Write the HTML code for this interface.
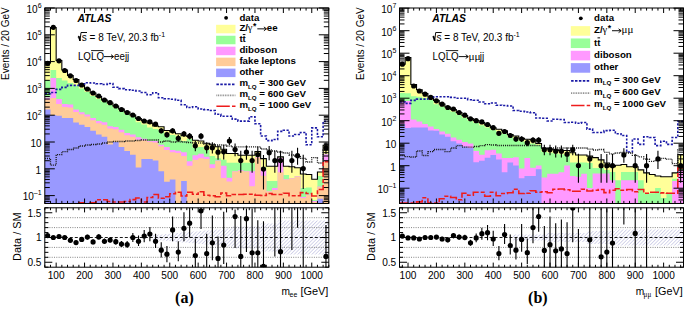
<!DOCTYPE html>
<html><head><meta charset="utf-8"><style>
html,body{margin:0;padding:0;background:#fff;width:685px;height:320px;overflow:hidden}
svg{display:block;font-family:"Liberation Sans",sans-serif}
</style></head><body>
<svg width="685" height="320" viewBox="0 0 685 320" font-family="&quot;Liberation Sans&quot;, sans-serif" fill="#000"><defs><pattern id="hatch" patternUnits="userSpaceOnUse" width="2.5" height="2.5" patternTransform="rotate(45)"><line x1="0" y1="0" x2="0" y2="2.5" stroke="#9898cc" stroke-width="0.8"/></pattern></defs>
<rect width="685" height="320" fill="#fff"/>
<clipPath id="Lm"><rect x="44.8" y="8.0" width="284" height="195.5"/></clipPath>
<clipPath id="Lr"><rect x="44.8" y="207.8" width="284" height="59.4"/></clipPath>
<path d="M44.8 205.5 L44.8 63 L50.48 63 L50.48 27.5 L56.16 27.5 L56.16 60.5 L61.84 60.5 L61.84 70 L67.52 70 L67.52 75.5 L73.2 75.5 L73.2 79.5 L78.88 79.5 L78.88 85 L84.56 85 L84.56 89 L90.24 89 L90.24 93 L95.92 93 L95.92 96.5 L101.6 96.5 L101.6 100 L107.28 100 L107.28 103 L112.96 103 L112.96 106 L118.64 106 L118.64 109 L124.32 109 L124.32 112 L130 112 L130 115 L135.68 115 L135.68 118.5 L141.36 118.5 L141.36 120.7 L147.04 120.7 L147.04 123 L152.72 123 L152.72 126 L158.4 126 L158.4 126.7 L164.08 126.7 L164.08 130.5 L169.76 130.5 L169.76 132 L175.44 132 L175.44 133.8 L181.12 133.8 L181.12 135.7 L186.8 135.7 L186.8 136.5 L192.48 136.5 L192.48 140.2 L198.16 140.2 L198.16 141 L203.84 141 L203.84 143.2 L209.52 143.2 L209.52 144.7 L215.2 144.7 L215.2 146.7 L220.88 146.7 L220.88 149.2 L226.56 149.2 L226.56 153.5 L232.24 153.5 L232.24 153.5 L237.92 153.5 L237.92 155.3 L243.6 155.3 L243.6 155.3 L249.28 155.3 L249.28 155.3 L254.96 155.3 L254.96 151.5 L260.64 151.5 L260.64 158.6 L266.32 158.6 L266.32 166.3 L272 166.3 L272 166.3 L277.68 166.3 L277.68 156.9 L283.36 156.9 L283.36 166.3 L289.04 166.3 L289.04 166.8 L294.72 166.8 L294.72 167.8 L300.4 167.8 L300.4 174 L306.08 174 L306.08 174.5 L311.76 174.5 L311.76 179.2 L317.44 179.2 L317.44 172 L323.12 172 L323.12 145.2 L328.8 145.2 L328.8 205.5 Z" fill="#ffff99" clip-path="url(#Lm)"/>
<path d="M44.8 205.5 L44.8 80 L50.48 80 L50.48 70 L56.16 70 L56.16 78 L61.84 78 L61.84 80.5 L67.52 80.5 L67.52 83 L73.2 83 L73.2 85.5 L78.88 85.5 L78.88 88.4 L84.56 88.4 L84.56 92 L90.24 92 L90.24 96 L95.92 96 L95.92 99 L101.6 99 L101.6 102 L107.28 102 L107.28 105 L112.96 105 L112.96 108 L118.64 108 L118.64 111 L124.32 111 L124.32 114 L130 114 L130 117 L135.68 117 L135.68 122.2 L141.36 122.2 L141.36 124.5 L147.04 124.5 L147.04 127.5 L152.72 127.5 L152.72 129 L158.4 129 L158.4 130.5 L164.08 130.5 L164.08 133.5 L169.76 133.5 L169.76 135 L175.44 135 L175.44 136.5 L181.12 136.5 L181.12 141 L186.8 141 L186.8 138.7 L192.48 138.7 L192.48 147.7 L198.16 147.7 L198.16 147 L203.84 147 L203.84 150 L209.52 150 L209.52 156 L215.2 156 L215.2 158.2 L220.88 158.2 L220.88 159.7 L226.56 159.7 L226.56 162.8 L232.24 162.8 L232.24 162.8 L237.92 162.8 L237.92 162.8 L243.6 162.8 L243.6 162.8 L249.28 162.8 L249.28 162.8 L254.96 162.8 L254.96 156.3 L260.64 156.3 L260.64 167 L266.32 167 L266.32 181 L272 181 L272 181 L277.68 181 L277.68 157.5 L283.36 157.5 L283.36 174.9 L289.04 174.9 L289.04 178 L294.72 178 L294.72 176 L300.4 176 L300.4 188 L306.08 188 L306.08 187.4 L311.76 187.4 L311.76 200 L317.44 200 L317.44 176 L323.12 176 L323.12 154 L328.8 154 L328.8 205.5 Z" fill="#99ff99" clip-path="url(#Lm)"/>
<path d="M44.8 205.5 L44.8 97.5 L50.48 97.5 L50.48 78 L56.16 78 L56.16 99 L61.84 99 L61.84 104 L67.52 104 L67.52 104.5 L73.2 104.5 L73.2 109.5 L78.88 109.5 L78.88 112.3 L84.56 112.3 L84.56 114.5 L90.24 114.5 L90.24 118 L95.92 118 L95.92 121 L101.6 121 L101.6 122.2 L107.28 122.2 L107.28 126.2 L112.96 126.2 L112.96 127 L118.64 127 L118.64 129.7 L124.32 129.7 L124.32 133 L130 133 L130 134.5 L135.68 134.5 L135.68 137.2 L141.36 137.2 L141.36 138.7 L147.04 138.7 L147.04 141 L152.72 141 L152.72 141 L158.4 141 L158.4 144.7 L164.08 144.7 L164.08 147 L169.76 147 L169.76 150 L175.44 150 L175.44 150.7 L181.12 150.7 L181.12 152.2 L186.8 152.2 L186.8 161.2 L192.48 161.2 L192.48 155.2 L198.16 155.2 L198.16 153.7 L203.84 153.7 L203.84 156.7 L209.52 156.7 L209.52 164.2 L215.2 164.2 L215.2 160.5 L220.88 160.5 L220.88 165.7 L226.56 165.7 L226.56 177.8 L232.24 177.8 L232.24 171.3 L237.92 171.3 L237.92 170.3 L243.6 170.3 L243.6 171.3 L249.28 171.3 L249.28 171.3 L254.96 171.3 L254.96 157 L260.64 157 L260.64 168.9 L266.32 168.9 L266.32 191.2 L272 191.2 L272 188 L277.68 188 L277.68 157.7 L283.36 157.7 L283.36 179.2 L289.04 179.2 L289.04 178.2 L294.72 178.2 L294.72 176.2 L300.4 176.2 L300.4 197 L306.08 197 L306.08 194.6 L311.76 194.6 L311.76 201 L317.44 201 L317.44 186.4 L323.12 186.4 L323.12 154.3 L328.8 154.3 L328.8 205.5 Z" fill="#ff99ff" clip-path="url(#Lm)"/>
<path d="M44.8 205.5 L44.8 99.5 L50.48 99.5 L50.48 98 L56.16 98 L56.16 104 L61.84 104 L61.84 107 L67.52 107 L67.52 107.5 L73.2 107.5 L73.2 112 L78.88 112 L78.88 114.2 L84.56 114.2 L84.56 116.5 L90.24 116.5 L90.24 120.2 L95.92 120.2 L95.92 123.2 L101.6 123.2 L101.6 124.7 L107.28 124.7 L107.28 128.5 L112.96 128.5 L112.96 129.2 L118.64 129.2 L118.64 132.2 L124.32 132.2 L124.32 135.2 L130 135.2 L130 136.7 L135.68 136.7 L135.68 139.7 L141.36 139.7 L141.36 140.2 L147.04 140.2 L147.04 141.7 L152.72 141.7 L152.72 142.5 L158.4 142.5 L158.4 146.2 L164.08 146.2 L164.08 150 L169.76 150 L169.76 152.2 L175.44 152.2 L175.44 153 L181.12 153 L181.12 156 L186.8 156 L186.8 165.7 L192.48 165.7 L192.48 159.7 L198.16 159.7 L198.16 158.2 L203.84 158.2 L203.84 159 L209.52 159 L209.52 168 L215.2 168 L215.2 161 L220.88 161 L220.88 178 L226.56 178 L226.56 181.6 L232.24 181.6 L232.24 171.5 L237.92 171.5 L237.92 171 L243.6 171 L243.6 171.5 L249.28 171.5 L249.28 186.3 L254.96 186.3 L254.96 157.5 L260.64 157.5 L260.64 175.8 L266.32 175.8 L266.32 191.5 L272 191.5 L272 190 L277.68 190 L277.68 172.3 L283.36 172.3 L283.36 179.5 L289.04 179.5 L289.04 178.4 L294.72 178.4 L294.72 176.4 L300.4 176.4 L300.4 198 L306.08 198 L306.08 195 L311.76 195 L311.76 202 L317.44 202 L317.44 187 L323.12 187 L323.12 161.6 L328.8 161.6 L328.8 205.5 Z" fill="#ffcc99" clip-path="url(#Lm)"/>
<path d="M44.8 205.5 L44.8 109.5 L50.48 109.5 L50.48 115 L56.16 115 L56.16 115.7 L61.84 115.7 L61.84 118 L67.52 118 L67.52 118 L73.2 118 L73.2 122.5 L78.88 122.5 L78.88 124.7 L84.56 124.7 L84.56 127 L90.24 127 L90.24 130.7 L95.92 130.7 L95.92 134.5 L101.6 134.5 L101.6 136.7 L107.28 136.7 L107.28 144.5 L112.96 144.5 L112.96 142 L118.64 142 L118.64 147 L124.32 147 L124.32 151 L130 151 L130 154.7 L135.68 154.7 L135.68 167.5 L141.36 167.5 L141.36 159 L147.04 159 L147.04 159 L152.72 159 L152.72 160.5 L158.4 160.5 L158.4 171.2 L164.08 171.2 L164.08 181.7 L169.76 181.7 L169.76 179.5 L175.44 179.5 L175.44 205 L181.12 205 L181.12 181 L186.8 181 L186.8 205 L192.48 205 L192.48 205 L198.16 205 L198.16 205 L203.84 205 L203.84 205 L209.52 205 L209.52 205 L215.2 205 L215.2 205 L220.88 205 L220.88 205 L226.56 205 L226.56 205 L232.24 205 L232.24 205 L237.92 205 L237.92 205 L243.6 205 L243.6 205 L249.28 205 L249.28 205 L254.96 205 L254.96 205 L260.64 205 L260.64 205 L266.32 205 L266.32 205 L272 205 L272 205 L277.68 205 L277.68 205 L283.36 205 L283.36 205 L289.04 205 L289.04 205 L294.72 205 L294.72 205 L300.4 205 L300.4 205 L306.08 205 L306.08 205 L311.76 205 L311.76 205 L317.44 205 L317.44 198.8 L323.12 198.8 L323.12 205 L328.8 205 L328.8 205.5 Z" fill="#9999ff" clip-path="url(#Lm)"/>
<path d="M44.8 63 L50.48 63 L50.48 27.5 L56.16 27.5 L56.16 60.5 L61.84 60.5 L61.84 70 L67.52 70 L67.52 75.5 L73.2 75.5 L73.2 79.5 L78.88 79.5 L78.88 85 L84.56 85 L84.56 89 L90.24 89 L90.24 93 L95.92 93 L95.92 96.5 L101.6 96.5 L101.6 100 L107.28 100 L107.28 103 L112.96 103 L112.96 106 L118.64 106 L118.64 109 L124.32 109 L124.32 112 L130 112 L130 115 L135.68 115 L135.68 118.5 L141.36 118.5 L141.36 120.7 L147.04 120.7 L147.04 123 L152.72 123 L152.72 126 L158.4 126 L158.4 126.7 L164.08 126.7 L164.08 130.5 L169.76 130.5 L169.76 132 L175.44 132 L175.44 133.8 L181.12 133.8 L181.12 135.7 L186.8 135.7 L186.8 136.5 L192.48 136.5 L192.48 140.2 L198.16 140.2 L198.16 141 L203.84 141 L203.84 143.2 L209.52 143.2 L209.52 144.7 L215.2 144.7 L215.2 146.7 L220.88 146.7 L220.88 149.2 L226.56 149.2 L226.56 153.5 L232.24 153.5 L232.24 153.5 L237.92 153.5 L237.92 155.3 L243.6 155.3 L243.6 155.3 L249.28 155.3 L249.28 155.3 L254.96 155.3 L254.96 151.5 L260.64 151.5 L260.64 158.6 L266.32 158.6 L266.32 166.3 L272 166.3 L272 166.3 L277.68 166.3 L277.68 156.9 L283.36 156.9 L283.36 166.3 L289.04 166.3 L289.04 166.8 L294.72 166.8 L294.72 167.8 L300.4 167.8 L300.4 174 L306.08 174 L306.08 174.5 L311.76 174.5 L311.76 179.2 L317.44 179.2 L317.44 172 L323.12 172 L323.12 145.2 L328.8 145.2" fill="none" stroke="#000" stroke-width="1.1" clip-path="url(#Lm)"/>
<path d="M44.8 93.6 L50.48 93.6 L50.48 92.5 L56.16 92.5 L56.16 89.4 L61.84 89.4 L61.84 87.4 L67.52 87.4 L67.52 85.4 L73.2 85.4 L73.2 85.4 L78.88 85.4 L78.88 83.9 L84.56 83.9 L84.56 82.75 L90.24 82.75 L90.24 83 L95.92 83 L95.92 83.7 L101.6 83.7 L101.6 84.5 L107.28 84.5 L107.28 83.5 L112.96 83.5 L112.96 87.2 L118.64 87.2 L118.64 88.6 L124.32 88.6 L124.32 89.7 L130 89.7 L130 90.3 L135.68 90.3 L135.68 91 L141.36 91 L141.36 92.5 L147.04 92.5 L147.04 94.7 L152.72 94.7 L152.72 92.8 L158.4 92.8 L158.4 97.7 L164.08 97.7 L164.08 98.8 L169.76 98.8 L169.76 99.2 L175.44 99.2 L175.44 100.3 L181.12 100.3 L181.12 104.8 L186.8 104.8 L186.8 107.5 L192.48 107.5 L192.48 106.7 L198.16 106.7 L198.16 109 L203.84 109 L203.84 109.7 L209.52 109.7 L209.52 110.5 L215.2 110.5 L215.2 114.2 L220.88 114.2 L220.88 116.2 L226.56 116.2 L226.56 116.2 L232.24 116.2 L232.24 119.1 L237.92 119.1 L237.92 121.1 L243.6 121.1 L243.6 121.1 L249.28 121.1 L249.28 116.8 L254.96 116.8 L254.96 123.7 L260.64 123.7 L260.64 136 L266.32 136 L266.32 140.6 L272 140.6 L272 139.5 L277.68 139.5 L277.68 131.4 L283.36 131.4 L283.36 130.3 L289.04 130.3 L289.04 136 L294.72 136 L294.72 134.5 L300.4 134.5 L300.4 132.5 L306.08 132.5 L306.08 144.7 L311.76 144.7 L311.76 127.9 L317.44 127.9 L317.44 136.8 L323.12 136.8 L323.12 121.4 L328.8 121.4" fill="none" stroke="#1a1aa6" stroke-width="1.6" stroke-dasharray="2.2 1.5" clip-path="url(#Lm)"/>
<path d="M44.8 158.5 L50.48 158.5 L50.48 165.2 L56.16 165.2 L56.16 154.7 L61.84 154.7 L61.84 151.7 L67.52 151.7 L67.52 149.5 L73.2 149.5 L73.2 148 L78.88 148 L78.88 146 L84.56 146 L84.56 145 L90.24 145 L90.24 144.5 L95.92 144.5 L95.92 144 L101.6 144 L101.6 143 L107.28 143 L107.28 142 L112.96 142 L112.96 141.5 L118.64 141.5 L118.64 141.5 L124.32 141.5 L124.32 141 L130 141 L130 141 L135.68 141 L135.68 140.5 L141.36 140.5 L141.36 140 L147.04 140 L147.04 140 L152.72 140 L152.72 140 L158.4 140 L158.4 142 L164.08 142 L164.08 141 L169.76 141 L169.76 142 L175.44 142 L175.44 141.5 L181.12 141.5 L181.12 142 L186.8 142 L186.8 142.5 L192.48 142.5 L192.48 143 L198.16 143 L198.16 143 L203.84 143 L203.84 144 L209.52 144 L209.52 144 L215.2 144 L215.2 145 L220.88 145 L220.88 145 L226.56 145 L226.56 146 L232.24 146 L232.24 146.8 L237.92 146.8 L237.92 146.8 L243.6 146.8 L243.6 146.8 L249.28 146.8 L249.28 146.8 L254.96 146.8 L254.96 146.8 L260.64 146.8 L260.64 149 L266.32 149 L266.32 150 L272 150 L272 151 L277.68 151 L277.68 152 L283.36 152 L283.36 153 L289.04 153 L289.04 155 L294.72 155 L294.72 156 L300.4 156 L300.4 158.3 L306.08 158.3 L306.08 162 L311.76 162 L311.76 157.6 L317.44 157.6 L317.44 163 L323.12 163 L323.12 150 L328.8 150" fill="none" stroke="#1a1a1a" stroke-width="1.3" stroke-dasharray="1.1 1" clip-path="url(#Lm)"/>
<path d="M44.8 206 L50.48 206 L50.48 206 L56.16 206 L56.16 206 L61.84 206 L61.84 206 L67.52 206 L67.52 206 L73.2 206 L73.2 206 L78.88 206 L78.88 202.7 L84.56 202.7 L84.56 204.5 L90.24 204.5 L90.24 202.7 L95.92 202.7 L95.92 199.8 L101.6 199.8 L101.6 199.8 L107.28 199.8 L107.28 201.5 L112.96 201.5 L112.96 202 L118.64 202 L118.64 202 L124.32 202 L124.32 201.5 L130 201.5 L130 199.6 L135.68 199.6 L135.68 198 L141.36 198 L141.36 202 L147.04 202 L147.04 197.5 L152.72 197.5 L152.72 194.5 L158.4 194.5 L158.4 198.2 L164.08 198.2 L164.08 196.7 L169.76 196.7 L169.76 193.7 L175.44 193.7 L175.44 192.2 L181.12 192.2 L181.12 196 L186.8 196 L186.8 192.2 L192.48 192.2 L192.48 194.2 L198.16 194.2 L198.16 191.8 L203.84 191.8 L203.84 195.2 L209.52 195.2 L209.52 195.7 L215.2 195.7 L215.2 196.7 L220.88 196.7 L220.88 193 L226.56 193 L226.56 195.7 L232.24 195.7 L232.24 194.5 L237.92 194.5 L237.92 194.5 L243.6 194.5 L243.6 194.2 L249.28 194.2 L249.28 194.2 L254.96 194.2 L254.96 195.3 L260.64 195.3 L260.64 195.5 L266.32 195.5 L266.32 193.5 L272 193.5 L272 194.5 L277.68 194.5 L277.68 194.5 L283.36 194.5 L283.36 193.2 L289.04 193.2 L289.04 195.7 L294.72 195.7 L294.72 195.7 L300.4 195.7 L300.4 192.6 L306.08 192.6 L306.08 193.5 L311.76 193.5 L311.76 196 L317.44 196 L317.44 189.5 L323.12 189.5 L323.12 161.6 L328.8 161.6" fill="none" stroke="#ee1c1c" stroke-width="1.6" stroke-dasharray="9 2 4 2" clip-path="url(#Lm)"/>
<line x1="47.64" y1="63.18" x2="47.64" y2="63.43" stroke="#000" stroke-width="1.1" clip-path="url(#Lm)"/>
<circle cx="47.64" cy="63.3" r="2.6" fill="#000" clip-path="url(#Lm)"/>
<line x1="53.32" y1="27.27" x2="53.32" y2="27.33" stroke="#000" stroke-width="1.1" clip-path="url(#Lm)"/>
<circle cx="53.32" cy="27.3" r="2.6" fill="#000" clip-path="url(#Lm)"/>
<line x1="59" y1="60.69" x2="59" y2="60.91" stroke="#000" stroke-width="1.1" clip-path="url(#Lm)"/>
<circle cx="59" cy="60.8" r="2.6" fill="#000" clip-path="url(#Lm)"/>
<line x1="64.68" y1="70.33" x2="64.68" y2="70.67" stroke="#000" stroke-width="1.1" clip-path="url(#Lm)"/>
<circle cx="64.68" cy="70.5" r="2.6" fill="#000" clip-path="url(#Lm)"/>
<line x1="70.36" y1="75.59" x2="70.36" y2="76.02" stroke="#000" stroke-width="1.1" clip-path="url(#Lm)"/>
<circle cx="70.36" cy="75.8" r="2.6" fill="#000" clip-path="url(#Lm)"/>
<line x1="76.04" y1="80.24" x2="76.04" y2="80.77" stroke="#000" stroke-width="1.1" clip-path="url(#Lm)"/>
<circle cx="76.04" cy="80.5" r="2.6" fill="#000" clip-path="url(#Lm)"/>
<line x1="81.72" y1="84.69" x2="81.72" y2="85.32" stroke="#000" stroke-width="1.1" clip-path="url(#Lm)"/>
<circle cx="81.72" cy="85" r="2.6" fill="#000" clip-path="url(#Lm)"/>
<line x1="87.4" y1="88.63" x2="87.4" y2="89.38" stroke="#000" stroke-width="1.1" clip-path="url(#Lm)"/>
<circle cx="87.4" cy="89" r="2.6" fill="#000" clip-path="url(#Lm)"/>
<line x1="93.08" y1="92.56" x2="93.08" y2="93.46" stroke="#000" stroke-width="1.1" clip-path="url(#Lm)"/>
<circle cx="93.08" cy="93" r="2.6" fill="#000" clip-path="url(#Lm)"/>
<line x1="98.76" y1="95.5" x2="98.76" y2="96.52" stroke="#000" stroke-width="1.1" clip-path="url(#Lm)"/>
<circle cx="98.76" cy="96" r="2.6" fill="#000" clip-path="url(#Lm)"/>
<line x1="104.44" y1="99.41" x2="104.44" y2="100.62" stroke="#000" stroke-width="1.1" clip-path="url(#Lm)"/>
<circle cx="104.44" cy="100" r="2.6" fill="#000" clip-path="url(#Lm)"/>
<line x1="110.12" y1="102.04" x2="110.12" y2="103.4" stroke="#000" stroke-width="1.1" clip-path="url(#Lm)"/>
<circle cx="110.12" cy="102.7" r="2.6" fill="#000" clip-path="url(#Lm)"/>
<line x1="115.8" y1="105.24" x2="115.8" y2="106.81" stroke="#000" stroke-width="1.1" clip-path="url(#Lm)"/>
<circle cx="115.8" cy="106" r="2.6" fill="#000" clip-path="url(#Lm)"/>
<line x1="121.48" y1="108.62" x2="121.48" y2="110.45" stroke="#000" stroke-width="1.1" clip-path="url(#Lm)"/>
<circle cx="121.48" cy="109.5" r="2.6" fill="#000" clip-path="url(#Lm)"/>
<line x1="127.16" y1="111.51" x2="127.16" y2="113.59" stroke="#000" stroke-width="1.1" clip-path="url(#Lm)"/>
<circle cx="127.16" cy="112.5" r="2.6" fill="#000" clip-path="url(#Lm)"/>
<line x1="132.84" y1="113.9" x2="132.84" y2="116.22" stroke="#000" stroke-width="1.1" clip-path="url(#Lm)"/>
<circle cx="132.84" cy="115" r="2.6" fill="#000" clip-path="url(#Lm)"/>
<line x1="138.52" y1="117.23" x2="138.52" y2="119.92" stroke="#000" stroke-width="1.1" clip-path="url(#Lm)"/>
<circle cx="138.52" cy="118.5" r="2.6" fill="#000" clip-path="url(#Lm)"/>
<line x1="144.2" y1="119.6" x2="144.2" y2="122.6" stroke="#000" stroke-width="1.1" clip-path="url(#Lm)"/>
<circle cx="144.2" cy="121" r="2.6" fill="#000" clip-path="url(#Lm)"/>
<line x1="149.88" y1="120.17" x2="149.88" y2="123.45" stroke="#000" stroke-width="1.1" clip-path="url(#Lm)"/>
<circle cx="149.88" cy="121.8" r="2.6" fill="#000" clip-path="url(#Lm)"/>
<line x1="155.56" y1="122.37" x2="155.56" y2="126.05" stroke="#000" stroke-width="1.1" clip-path="url(#Lm)"/>
<circle cx="155.56" cy="124.2" r="2.6" fill="#000" clip-path="url(#Lm)"/>
<line x1="161.24" y1="128.32" x2="161.24" y2="133.32" stroke="#000" stroke-width="1.1" clip-path="url(#Lm)"/>
<circle cx="161.24" cy="130.8" r="2.6" fill="#000" clip-path="url(#Lm)"/>
<line x1="166.92" y1="131.77" x2="166.92" y2="137.7" stroke="#000" stroke-width="1.1" clip-path="url(#Lm)"/>
<circle cx="166.92" cy="134.7" r="2.6" fill="#000" clip-path="url(#Lm)"/>
<line x1="172.6" y1="128.32" x2="172.6" y2="133.32" stroke="#000" stroke-width="1.1" clip-path="url(#Lm)"/>
<circle cx="172.6" cy="130.8" r="2.6" fill="#000" clip-path="url(#Lm)"/>
<line x1="178.28" y1="134.85" x2="178.28" y2="141.87" stroke="#000" stroke-width="1.1" clip-path="url(#Lm)"/>
<circle cx="178.28" cy="138.3" r="2.6" fill="#000" clip-path="url(#Lm)"/>
<line x1="183.96" y1="130.95" x2="183.96" y2="136.72" stroke="#000" stroke-width="1.1" clip-path="url(#Lm)"/>
<circle cx="183.96" cy="133.8" r="2.6" fill="#000" clip-path="url(#Lm)"/>
<line x1="189.64" y1="132.99" x2="189.64" y2="139.51" stroke="#000" stroke-width="1.1" clip-path="url(#Lm)"/>
<circle cx="189.64" cy="136.2" r="2.6" fill="#000" clip-path="url(#Lm)"/>
<line x1="195.32" y1="140.78" x2="195.32" y2="151.16" stroke="#000" stroke-width="1.1" clip-path="url(#Lm)"/>
<circle cx="195.32" cy="145.8" r="2.6" fill="#000" clip-path="url(#Lm)"/>
<line x1="201" y1="132.99" x2="201" y2="139.51" stroke="#000" stroke-width="1.1" clip-path="url(#Lm)"/>
<circle cx="201" cy="136.2" r="2.6" fill="#000" clip-path="url(#Lm)"/>
<line x1="206.68" y1="142.25" x2="206.68" y2="153.58" stroke="#000" stroke-width="1.1" clip-path="url(#Lm)"/>
<circle cx="206.68" cy="147.7" r="2.6" fill="#000" clip-path="url(#Lm)"/>
<line x1="212.36" y1="142.25" x2="212.36" y2="153.58" stroke="#000" stroke-width="1.1" clip-path="url(#Lm)"/>
<circle cx="212.36" cy="147.7" r="2.6" fill="#000" clip-path="url(#Lm)"/>
<line x1="218.04" y1="145.42" x2="218.04" y2="159.78" stroke="#000" stroke-width="1.1" clip-path="url(#Lm)"/>
<circle cx="218.04" cy="152.2" r="2.6" fill="#000" clip-path="url(#Lm)"/>
<line x1="223.72" y1="145.02" x2="223.72" y2="159.38" stroke="#000" stroke-width="1.1" clip-path="url(#Lm)"/>
<circle cx="223.72" cy="151.8" r="2.6" fill="#000" clip-path="url(#Lm)"/>
<line x1="229.4" y1="137.07" x2="229.4" y2="145.1" stroke="#000" stroke-width="1.1" clip-path="url(#Lm)"/>
<circle cx="229.4" cy="141" r="2.6" fill="#000" clip-path="url(#Lm)"/>
<line x1="235.08" y1="143.59" x2="235.08" y2="156.18" stroke="#000" stroke-width="1.1" clip-path="url(#Lm)"/>
<circle cx="235.08" cy="149.6" r="2.6" fill="#000" clip-path="url(#Lm)"/>
<line x1="240.76" y1="150.81" x2="240.76" y2="172.68" stroke="#000" stroke-width="1.1" clip-path="url(#Lm)"/>
<circle cx="240.76" cy="160.6" r="2.6" fill="#000" clip-path="url(#Lm)"/>
<line x1="246.44" y1="145.42" x2="246.44" y2="159.78" stroke="#000" stroke-width="1.1" clip-path="url(#Lm)"/>
<circle cx="246.44" cy="152.2" r="2.6" fill="#000" clip-path="url(#Lm)"/>
<line x1="252.12" y1="150.81" x2="252.12" y2="172.68" stroke="#000" stroke-width="1.1" clip-path="url(#Lm)"/>
<circle cx="252.12" cy="160.6" r="2.6" fill="#000" clip-path="url(#Lm)"/>
<line x1="257.8" y1="146.59" x2="257.8" y2="163.65" stroke="#000" stroke-width="1.1" clip-path="url(#Lm)"/>
<circle cx="257.8" cy="154.5" r="2.6" fill="#000" clip-path="url(#Lm)"/>
<line x1="263.48" y1="155.11" x2="263.48" y2="189.44" stroke="#000" stroke-width="1.1" clip-path="url(#Lm)"/>
<circle cx="263.48" cy="169" r="2.6" fill="#000" clip-path="url(#Lm)"/>
<line x1="269.16" y1="145.92" x2="269.16" y2="160.28" stroke="#000" stroke-width="1.1" clip-path="url(#Lm)"/>
<circle cx="269.16" cy="152.7" r="2.6" fill="#000" clip-path="url(#Lm)"/>
<line x1="274.84" y1="150.81" x2="274.84" y2="172.68" stroke="#000" stroke-width="1.1" clip-path="url(#Lm)"/>
<circle cx="274.84" cy="160.6" r="2.6" fill="#000" clip-path="url(#Lm)"/>
<line x1="280.52" y1="150.81" x2="280.52" y2="172.68" stroke="#000" stroke-width="1.1" clip-path="url(#Lm)"/>
<circle cx="280.52" cy="160.6" r="2.6" fill="#000" clip-path="url(#Lm)"/>
<line x1="291.88" y1="150.81" x2="291.88" y2="172.68" stroke="#000" stroke-width="1.1" clip-path="url(#Lm)"/>
<circle cx="291.88" cy="160.6" r="2.6" fill="#000" clip-path="url(#Lm)"/>
<line x1="297.56" y1="147.79" x2="297.56" y2="164.85" stroke="#000" stroke-width="1.1" clip-path="url(#Lm)"/>
<circle cx="297.56" cy="155.7" r="2.6" fill="#000" clip-path="url(#Lm)"/>
<line x1="303.24" y1="154.71" x2="303.24" y2="189.04" stroke="#000" stroke-width="1.1" clip-path="url(#Lm)"/>
<circle cx="303.24" cy="168.6" r="2.6" fill="#000" clip-path="url(#Lm)"/>
<line x1="325.96" y1="142.55" x2="325.96" y2="153.88" stroke="#000" stroke-width="1.1" clip-path="url(#Lm)"/>
<circle cx="325.96" cy="148" r="2.6" fill="#000" clip-path="url(#Lm)"/>
<rect x="44.8" y="8.0" width="284" height="195.5" fill="none" stroke="#000" stroke-width="1"/>
<text x="56.16" y="278.7" font-size="10.1" text-anchor="middle">100</text>
<text x="84.56" y="278.7" font-size="10.1" text-anchor="middle">200</text>
<text x="112.96" y="278.7" font-size="10.1" text-anchor="middle">300</text>
<text x="141.36" y="278.7" font-size="10.1" text-anchor="middle">400</text>
<text x="169.76" y="278.7" font-size="10.1" text-anchor="middle">500</text>
<text x="198.16" y="278.7" font-size="10.1" text-anchor="middle">600</text>
<text x="226.56" y="278.7" font-size="10.1" text-anchor="middle">700</text>
<text x="254.96" y="278.7" font-size="10.1" text-anchor="middle">800</text>
<text x="283.36" y="278.7" font-size="10.1" text-anchor="middle">900</text>
<text x="311.76" y="278.7" font-size="10.1" text-anchor="middle">1000</text>
<path d="M44.8 203.5 v-2.6 M44.8 8 v2.6 M44.8 267.2 v-2.4 M44.8 207.8 v2.4 M50.48 203.5 v-2.6 M50.48 8 v2.6 M50.48 267.2 v-2.4 M50.48 207.8 v2.4 M56.16 203.5 v-5 M56.16 8 v5 M56.16 267.2 v-4.6 M56.16 207.8 v4.6 M61.84 203.5 v-2.6 M61.84 8 v2.6 M61.84 267.2 v-2.4 M61.84 207.8 v2.4 M67.52 203.5 v-2.6 M67.52 8 v2.6 M67.52 267.2 v-2.4 M67.52 207.8 v2.4 M73.2 203.5 v-2.6 M73.2 8 v2.6 M73.2 267.2 v-2.4 M73.2 207.8 v2.4 M78.88 203.5 v-2.6 M78.88 8 v2.6 M78.88 267.2 v-2.4 M78.88 207.8 v2.4 M84.56 203.5 v-5 M84.56 8 v5 M84.56 267.2 v-4.6 M84.56 207.8 v4.6 M90.24 203.5 v-2.6 M90.24 8 v2.6 M90.24 267.2 v-2.4 M90.24 207.8 v2.4 M95.92 203.5 v-2.6 M95.92 8 v2.6 M95.92 267.2 v-2.4 M95.92 207.8 v2.4 M101.6 203.5 v-2.6 M101.6 8 v2.6 M101.6 267.2 v-2.4 M101.6 207.8 v2.4 M107.28 203.5 v-2.6 M107.28 8 v2.6 M107.28 267.2 v-2.4 M107.28 207.8 v2.4 M112.96 203.5 v-5 M112.96 8 v5 M112.96 267.2 v-4.6 M112.96 207.8 v4.6 M118.64 203.5 v-2.6 M118.64 8 v2.6 M118.64 267.2 v-2.4 M118.64 207.8 v2.4 M124.32 203.5 v-2.6 M124.32 8 v2.6 M124.32 267.2 v-2.4 M124.32 207.8 v2.4 M130 203.5 v-2.6 M130 8 v2.6 M130 267.2 v-2.4 M130 207.8 v2.4 M135.68 203.5 v-2.6 M135.68 8 v2.6 M135.68 267.2 v-2.4 M135.68 207.8 v2.4 M141.36 203.5 v-5 M141.36 8 v5 M141.36 267.2 v-4.6 M141.36 207.8 v4.6 M147.04 203.5 v-2.6 M147.04 8 v2.6 M147.04 267.2 v-2.4 M147.04 207.8 v2.4 M152.72 203.5 v-2.6 M152.72 8 v2.6 M152.72 267.2 v-2.4 M152.72 207.8 v2.4 M158.4 203.5 v-2.6 M158.4 8 v2.6 M158.4 267.2 v-2.4 M158.4 207.8 v2.4 M164.08 203.5 v-2.6 M164.08 8 v2.6 M164.08 267.2 v-2.4 M164.08 207.8 v2.4 M169.76 203.5 v-5 M169.76 8 v5 M169.76 267.2 v-4.6 M169.76 207.8 v4.6 M175.44 203.5 v-2.6 M175.44 8 v2.6 M175.44 267.2 v-2.4 M175.44 207.8 v2.4 M181.12 203.5 v-2.6 M181.12 8 v2.6 M181.12 267.2 v-2.4 M181.12 207.8 v2.4 M186.8 203.5 v-2.6 M186.8 8 v2.6 M186.8 267.2 v-2.4 M186.8 207.8 v2.4 M192.48 203.5 v-2.6 M192.48 8 v2.6 M192.48 267.2 v-2.4 M192.48 207.8 v2.4 M198.16 203.5 v-5 M198.16 8 v5 M198.16 267.2 v-4.6 M198.16 207.8 v4.6 M203.84 203.5 v-2.6 M203.84 8 v2.6 M203.84 267.2 v-2.4 M203.84 207.8 v2.4 M209.52 203.5 v-2.6 M209.52 8 v2.6 M209.52 267.2 v-2.4 M209.52 207.8 v2.4 M215.2 203.5 v-2.6 M215.2 8 v2.6 M215.2 267.2 v-2.4 M215.2 207.8 v2.4 M220.88 203.5 v-2.6 M220.88 8 v2.6 M220.88 267.2 v-2.4 M220.88 207.8 v2.4 M226.56 203.5 v-5 M226.56 8 v5 M226.56 267.2 v-4.6 M226.56 207.8 v4.6 M232.24 203.5 v-2.6 M232.24 8 v2.6 M232.24 267.2 v-2.4 M232.24 207.8 v2.4 M237.92 203.5 v-2.6 M237.92 8 v2.6 M237.92 267.2 v-2.4 M237.92 207.8 v2.4 M243.6 203.5 v-2.6 M243.6 8 v2.6 M243.6 267.2 v-2.4 M243.6 207.8 v2.4 M249.28 203.5 v-2.6 M249.28 8 v2.6 M249.28 267.2 v-2.4 M249.28 207.8 v2.4 M254.96 203.5 v-5 M254.96 8 v5 M254.96 267.2 v-4.6 M254.96 207.8 v4.6 M260.64 203.5 v-2.6 M260.64 8 v2.6 M260.64 267.2 v-2.4 M260.64 207.8 v2.4 M266.32 203.5 v-2.6 M266.32 8 v2.6 M266.32 267.2 v-2.4 M266.32 207.8 v2.4 M272 203.5 v-2.6 M272 8 v2.6 M272 267.2 v-2.4 M272 207.8 v2.4 M277.68 203.5 v-2.6 M277.68 8 v2.6 M277.68 267.2 v-2.4 M277.68 207.8 v2.4 M283.36 203.5 v-5 M283.36 8 v5 M283.36 267.2 v-4.6 M283.36 207.8 v4.6 M289.04 203.5 v-2.6 M289.04 8 v2.6 M289.04 267.2 v-2.4 M289.04 207.8 v2.4 M294.72 203.5 v-2.6 M294.72 8 v2.6 M294.72 267.2 v-2.4 M294.72 207.8 v2.4 M300.4 203.5 v-2.6 M300.4 8 v2.6 M300.4 267.2 v-2.4 M300.4 207.8 v2.4 M306.08 203.5 v-2.6 M306.08 8 v2.6 M306.08 267.2 v-2.4 M306.08 207.8 v2.4 M311.76 203.5 v-5 M311.76 8 v5 M311.76 267.2 v-4.6 M311.76 207.8 v4.6 M317.44 203.5 v-2.6 M317.44 8 v2.6 M317.44 267.2 v-2.4 M317.44 207.8 v2.4 M323.12 203.5 v-2.6 M323.12 8 v2.6 M323.12 267.2 v-2.4 M323.12 207.8 v2.4 M328.8 203.5 v-2.6 M328.8 8 v2.6 M328.8 267.2 v-2.4 M328.8 207.8 v2.4 M44.8 8 h10 M328.8 8 h-10 M44.8 34.8 h10 M328.8 34.8 h-10 M44.8 26.73 h5 M328.8 26.73 h-5 M44.8 22.01 h5 M328.8 22.01 h-5 M44.8 18.66 h5 M328.8 18.66 h-5 M44.8 16.07 h5 M328.8 16.07 h-5 M44.8 13.95 h5 M328.8 13.95 h-5 M44.8 12.15 h5 M328.8 12.15 h-5 M44.8 10.6 h5 M328.8 10.6 h-5 M44.8 9.23 h5 M328.8 9.23 h-5 M44.8 61.6 h10 M328.8 61.6 h-10 M44.8 53.53 h5 M328.8 53.53 h-5 M44.8 48.81 h5 M328.8 48.81 h-5 M44.8 45.46 h5 M328.8 45.46 h-5 M44.8 42.87 h5 M328.8 42.87 h-5 M44.8 40.75 h5 M328.8 40.75 h-5 M44.8 38.95 h5 M328.8 38.95 h-5 M44.8 37.4 h5 M328.8 37.4 h-5 M44.8 36.03 h5 M328.8 36.03 h-5 M44.8 88.4 h10 M328.8 88.4 h-10 M44.8 80.33 h5 M328.8 80.33 h-5 M44.8 75.61 h5 M328.8 75.61 h-5 M44.8 72.26 h5 M328.8 72.26 h-5 M44.8 69.67 h5 M328.8 69.67 h-5 M44.8 67.55 h5 M328.8 67.55 h-5 M44.8 65.75 h5 M328.8 65.75 h-5 M44.8 64.2 h5 M328.8 64.2 h-5 M44.8 62.83 h5 M328.8 62.83 h-5 M44.8 115.2 h10 M328.8 115.2 h-10 M44.8 107.13 h5 M328.8 107.13 h-5 M44.8 102.41 h5 M328.8 102.41 h-5 M44.8 99.06 h5 M328.8 99.06 h-5 M44.8 96.47 h5 M328.8 96.47 h-5 M44.8 94.35 h5 M328.8 94.35 h-5 M44.8 92.55 h5 M328.8 92.55 h-5 M44.8 91 h5 M328.8 91 h-5 M44.8 89.63 h5 M328.8 89.63 h-5 M44.8 142 h10 M328.8 142 h-10 M44.8 133.93 h5 M328.8 133.93 h-5 M44.8 129.21 h5 M328.8 129.21 h-5 M44.8 125.86 h5 M328.8 125.86 h-5 M44.8 123.27 h5 M328.8 123.27 h-5 M44.8 121.15 h5 M328.8 121.15 h-5 M44.8 119.35 h5 M328.8 119.35 h-5 M44.8 117.8 h5 M328.8 117.8 h-5 M44.8 116.43 h5 M328.8 116.43 h-5 M44.8 168.8 h10 M328.8 168.8 h-10 M44.8 160.73 h5 M328.8 160.73 h-5 M44.8 156.01 h5 M328.8 156.01 h-5 M44.8 152.66 h5 M328.8 152.66 h-5 M44.8 150.07 h5 M328.8 150.07 h-5 M44.8 147.95 h5 M328.8 147.95 h-5 M44.8 146.15 h5 M328.8 146.15 h-5 M44.8 144.6 h5 M328.8 144.6 h-5 M44.8 143.23 h5 M328.8 143.23 h-5 M44.8 195.6 h10 M328.8 195.6 h-10 M44.8 187.53 h5 M328.8 187.53 h-5 M44.8 182.81 h5 M328.8 182.81 h-5 M44.8 179.46 h5 M328.8 179.46 h-5 M44.8 176.87 h5 M328.8 176.87 h-5 M44.8 174.75 h5 M328.8 174.75 h-5 M44.8 172.95 h5 M328.8 172.95 h-5 M44.8 171.4 h5 M328.8 171.4 h-5 M44.8 170.03 h5 M328.8 170.03 h-5 M44.8 201.55 h5 M328.8 201.55 h-5 M44.8 199.75 h5 M328.8 199.75 h-5 M44.8 198.2 h5 M328.8 198.2 h-5 M44.8 196.83 h5 M328.8 196.83 h-5" stroke="#000" stroke-width="1" fill="none"/>
<text x="41.6" y="12.8" font-size="10" text-anchor="end">10<tspan font-size="7" dy="-5">6</tspan></text>
<text x="41.6" y="39.6" font-size="10" text-anchor="end">10<tspan font-size="7" dy="-5">5</tspan></text>
<text x="41.6" y="66.4" font-size="10" text-anchor="end">10<tspan font-size="7" dy="-5">4</tspan></text>
<text x="41.6" y="93.2" font-size="10" text-anchor="end">10<tspan font-size="7" dy="-5">3</tspan></text>
<text x="41.6" y="120" font-size="10" text-anchor="end">10<tspan font-size="7" dy="-5">2</tspan></text>
<text x="41.6" y="146.8" font-size="10" text-anchor="end">10</text>
<text x="41.1" y="173.6" font-size="10" text-anchor="end">1</text>
<text x="41.6" y="200.4" font-size="10" text-anchor="end">10<tspan font-size="7" dy="-5">&#8211;1</tspan></text>
<rect x="152.72" y="234.7" width="5.7" height="5.6" fill="url(#hatch)" clip-path="url(#Lr)"/>
<rect x="158.4" y="234.5" width="5.7" height="6" fill="url(#hatch)" clip-path="url(#Lr)"/>
<rect x="164.08" y="234" width="5.7" height="7" fill="url(#hatch)" clip-path="url(#Lr)"/>
<rect x="169.76" y="233.5" width="5.7" height="8" fill="url(#hatch)" clip-path="url(#Lr)"/>
<rect x="175.44" y="233" width="5.7" height="9" fill="url(#hatch)" clip-path="url(#Lr)"/>
<rect x="181.12" y="232.5" width="5.7" height="10" fill="url(#hatch)" clip-path="url(#Lr)"/>
<rect x="186.8" y="232" width="5.7" height="11" fill="url(#hatch)" clip-path="url(#Lr)"/>
<rect x="192.48" y="231.5" width="5.7" height="12" fill="url(#hatch)" clip-path="url(#Lr)"/>
<rect x="198.16" y="231" width="5.7" height="13" fill="url(#hatch)" clip-path="url(#Lr)"/>
<rect x="203.84" y="230.5" width="5.7" height="14" fill="url(#hatch)" clip-path="url(#Lr)"/>
<rect x="209.52" y="230" width="5.7" height="15" fill="url(#hatch)" clip-path="url(#Lr)"/>
<rect x="215.2" y="229.5" width="5.7" height="16" fill="url(#hatch)" clip-path="url(#Lr)"/>
<rect x="220.88" y="229" width="5.7" height="17" fill="url(#hatch)" clip-path="url(#Lr)"/>
<rect x="226.56" y="228.5" width="5.7" height="18" fill="url(#hatch)" clip-path="url(#Lr)"/>
<rect x="232.24" y="226.5" width="5.7" height="22" fill="url(#hatch)" clip-path="url(#Lr)"/>
<rect x="237.92" y="226.5" width="5.7" height="22" fill="url(#hatch)" clip-path="url(#Lr)"/>
<rect x="243.6" y="226.5" width="5.7" height="22" fill="url(#hatch)" clip-path="url(#Lr)"/>
<rect x="249.28" y="226.5" width="5.7" height="22" fill="url(#hatch)" clip-path="url(#Lr)"/>
<rect x="254.96" y="226.5" width="5.7" height="22" fill="url(#hatch)" clip-path="url(#Lr)"/>
<rect x="260.64" y="223.5" width="5.7" height="28" fill="url(#hatch)" clip-path="url(#Lr)"/>
<rect x="266.32" y="223.5" width="5.7" height="28" fill="url(#hatch)" clip-path="url(#Lr)"/>
<rect x="272" y="223.5" width="5.7" height="28" fill="url(#hatch)" clip-path="url(#Lr)"/>
<rect x="277.68" y="220.5" width="5.7" height="34" fill="url(#hatch)" clip-path="url(#Lr)"/>
<rect x="283.36" y="220.5" width="5.7" height="34" fill="url(#hatch)" clip-path="url(#Lr)"/>
<rect x="289.04" y="220.5" width="5.7" height="34" fill="url(#hatch)" clip-path="url(#Lr)"/>
<rect x="294.72" y="220.5" width="5.7" height="34" fill="url(#hatch)" clip-path="url(#Lr)"/>
<rect x="300.4" y="220.5" width="5.7" height="34" fill="url(#hatch)" clip-path="url(#Lr)"/>
<rect x="306.08" y="220.5" width="5.7" height="34" fill="url(#hatch)" clip-path="url(#Lr)"/>
<rect x="311.76" y="220.5" width="5.7" height="34" fill="url(#hatch)" clip-path="url(#Lr)"/>
<rect x="317.44" y="220.5" width="5.7" height="34" fill="url(#hatch)" clip-path="url(#Lr)"/>
<rect x="323.12" y="220.5" width="5.7" height="34" fill="url(#hatch)" clip-path="url(#Lr)"/>
<line x1="44.8" x2="328.8" y1="257.3" y2="257.3" stroke="#777" stroke-width="0.9" stroke-dasharray="1 1.3"/>
<line x1="44.8" x2="328.8" y1="247.4" y2="247.4" stroke="#777" stroke-width="0.9" stroke-dasharray="1 1.3"/>
<line x1="44.8" x2="328.8" y1="227.6" y2="227.6" stroke="#777" stroke-width="0.9" stroke-dasharray="1 1.3"/>
<line x1="44.8" x2="328.8" y1="217.7" y2="217.7" stroke="#777" stroke-width="0.9" stroke-dasharray="1 1.3"/>
<line x1="44.8" x2="328.8" y1="237.5" y2="237.5" stroke="#000" stroke-width="0.9" stroke-dasharray="3 2"/>
<line x1="47.64" y1="234.1" x2="47.64" y2="237.1" stroke="#000" stroke-width="1.1" clip-path="url(#Lr)"/>
<circle cx="47.64" cy="235.6" r="2.6" fill="#000" clip-path="url(#Lr)"/>
<line x1="53.32" y1="235.88" x2="53.32" y2="239.12" stroke="#000" stroke-width="1.1" clip-path="url(#Lr)"/>
<circle cx="53.32" cy="237.5" r="2.6" fill="#000" clip-path="url(#Lr)"/>
<line x1="59" y1="234.76" x2="59" y2="238.24" stroke="#000" stroke-width="1.1" clip-path="url(#Lr)"/>
<circle cx="59" cy="236.5" r="2.6" fill="#000" clip-path="url(#Lr)"/>
<line x1="64.68" y1="235.64" x2="64.68" y2="239.36" stroke="#000" stroke-width="1.1" clip-path="url(#Lr)"/>
<circle cx="64.68" cy="237.5" r="2.6" fill="#000" clip-path="url(#Lr)"/>
<line x1="70.36" y1="238.32" x2="70.36" y2="242.28" stroke="#000" stroke-width="1.1" clip-path="url(#Lr)"/>
<circle cx="70.36" cy="240.3" r="2.6" fill="#000" clip-path="url(#Lr)"/>
<line x1="76.04" y1="240.5" x2="76.04" y2="244.7" stroke="#000" stroke-width="1.1" clip-path="url(#Lr)"/>
<circle cx="76.04" cy="242.6" r="2.6" fill="#000" clip-path="url(#Lr)"/>
<line x1="81.72" y1="237.18" x2="81.72" y2="241.62" stroke="#000" stroke-width="1.1" clip-path="url(#Lr)"/>
<circle cx="81.72" cy="239.4" r="2.6" fill="#000" clip-path="url(#Lr)"/>
<line x1="87.4" y1="234.76" x2="87.4" y2="239.44" stroke="#000" stroke-width="1.1" clip-path="url(#Lr)"/>
<circle cx="87.4" cy="237.1" r="2.6" fill="#000" clip-path="url(#Lr)"/>
<line x1="93.08" y1="239.44" x2="93.08" y2="244.36" stroke="#000" stroke-width="1.1" clip-path="url(#Lr)"/>
<circle cx="93.08" cy="241.9" r="2.6" fill="#000" clip-path="url(#Lr)"/>
<line x1="98.76" y1="234.32" x2="98.76" y2="239.48" stroke="#000" stroke-width="1.1" clip-path="url(#Lr)"/>
<circle cx="98.76" cy="236.9" r="2.6" fill="#000" clip-path="url(#Lr)"/>
<line x1="104.44" y1="238.6" x2="104.44" y2="244" stroke="#000" stroke-width="1.1" clip-path="url(#Lr)"/>
<circle cx="104.44" cy="241.3" r="2.6" fill="#000" clip-path="url(#Lr)"/>
<line x1="110.12" y1="237.18" x2="110.12" y2="242.82" stroke="#000" stroke-width="1.1" clip-path="url(#Lr)"/>
<circle cx="110.12" cy="240" r="2.6" fill="#000" clip-path="url(#Lr)"/>
<line x1="115.8" y1="238.76" x2="115.8" y2="244.64" stroke="#000" stroke-width="1.1" clip-path="url(#Lr)"/>
<circle cx="115.8" cy="241.7" r="2.6" fill="#000" clip-path="url(#Lr)"/>
<line x1="121.48" y1="241.1" x2="121.48" y2="247.1" stroke="#000" stroke-width="1.1" clip-path="url(#Lr)"/>
<circle cx="121.48" cy="244.1" r="2.6" fill="#000" clip-path="url(#Lr)"/>
<line x1="127.16" y1="241" x2="127.16" y2="248" stroke="#000" stroke-width="1.1" clip-path="url(#Lr)"/>
<circle cx="127.16" cy="244.5" r="2.6" fill="#000" clip-path="url(#Lr)"/>
<line x1="132.84" y1="233.1" x2="132.84" y2="241.9" stroke="#000" stroke-width="1.1" clip-path="url(#Lr)"/>
<circle cx="132.84" cy="237.5" r="2.6" fill="#000" clip-path="url(#Lr)"/>
<line x1="138.52" y1="235.6" x2="138.52" y2="246" stroke="#000" stroke-width="1.1" clip-path="url(#Lr)"/>
<circle cx="138.52" cy="241.3" r="2.6" fill="#000" clip-path="url(#Lr)"/>
<line x1="144.2" y1="229.9" x2="144.2" y2="242.2" stroke="#000" stroke-width="1.1" clip-path="url(#Lr)"/>
<circle cx="144.2" cy="236" r="2.6" fill="#000" clip-path="url(#Lr)"/>
<line x1="149.88" y1="227" x2="149.88" y2="241.3" stroke="#000" stroke-width="1.1" clip-path="url(#Lr)"/>
<circle cx="149.88" cy="234" r="2.6" fill="#000" clip-path="url(#Lr)"/>
<line x1="155.56" y1="233.7" x2="155.56" y2="248" stroke="#000" stroke-width="1.1" clip-path="url(#Lr)"/>
<circle cx="155.56" cy="241.3" r="2.6" fill="#000" clip-path="url(#Lr)"/>
<line x1="161.24" y1="242.2" x2="161.24" y2="257.5" stroke="#000" stroke-width="1.1" clip-path="url(#Lr)"/>
<circle cx="161.24" cy="250.2" r="2.6" fill="#000" clip-path="url(#Lr)"/>
<line x1="166.92" y1="246" x2="166.92" y2="262.2" stroke="#000" stroke-width="1.1" clip-path="url(#Lr)"/>
<circle cx="166.92" cy="254.2" r="2.6" fill="#000" clip-path="url(#Lr)"/>
<line x1="172.6" y1="216.5" x2="172.6" y2="241.3" stroke="#000" stroke-width="1.1" clip-path="url(#Lr)"/>
<circle cx="172.6" cy="229.9" r="2.6" fill="#000" clip-path="url(#Lr)"/>
<line x1="178.28" y1="241.3" x2="178.28" y2="261.3" stroke="#000" stroke-width="1.1" clip-path="url(#Lr)"/>
<circle cx="178.28" cy="252.1" r="2.6" fill="#000" clip-path="url(#Lr)"/>
<line x1="183.96" y1="212.3" x2="183.96" y2="241.3" stroke="#000" stroke-width="1.1" clip-path="url(#Lr)"/>
<circle cx="183.96" cy="228.3" r="2.6" fill="#000" clip-path="url(#Lr)"/>
<line x1="189.64" y1="208" x2="189.64" y2="237.5" stroke="#000" stroke-width="1.1" clip-path="url(#Lr)"/>
<circle cx="189.64" cy="223.2" r="2.6" fill="#000" clip-path="url(#Lr)"/>
<line x1="195.32" y1="238.4" x2="195.32" y2="268" stroke="#000" stroke-width="1.1" clip-path="url(#Lr)"/>
<circle cx="195.32" cy="255.6" r="2.6" fill="#000" clip-path="url(#Lr)"/>
<line x1="201" y1="207" x2="201" y2="228.9" stroke="#000" stroke-width="1.1" clip-path="url(#Lr)"/>
<circle cx="201" cy="210.8" r="2.6" fill="#000" clip-path="url(#Lr)"/>
<line x1="206.68" y1="233.7" x2="206.68" y2="268" stroke="#000" stroke-width="1.1" clip-path="url(#Lr)"/>
<circle cx="206.68" cy="253.7" r="2.6" fill="#000" clip-path="url(#Lr)"/>
<line x1="212.36" y1="215.6" x2="212.36" y2="260.3" stroke="#000" stroke-width="1.1" clip-path="url(#Lr)"/>
<circle cx="212.36" cy="242.8" r="2.6" fill="#000" clip-path="url(#Lr)"/>
<line x1="218.04" y1="236.5" x2="218.04" y2="268" stroke="#000" stroke-width="1.1" clip-path="url(#Lr)"/>
<circle cx="218.04" cy="258.4" r="2.6" fill="#000" clip-path="url(#Lr)"/>
<line x1="223.72" y1="211.8" x2="223.72" y2="264.1" stroke="#000" stroke-width="1.1" clip-path="url(#Lr)"/>
<circle cx="223.72" cy="245" r="2.6" fill="#000" clip-path="url(#Lr)"/>
<line x1="235.08" y1="209.6" x2="235.08" y2="247.9" stroke="#000" stroke-width="1.1" clip-path="url(#Lr)"/>
<circle cx="235.08" cy="216.6" r="2.6" fill="#000" clip-path="url(#Lr)"/>
<line x1="240.76" y1="216" x2="240.76" y2="268" stroke="#000" stroke-width="1.1" clip-path="url(#Lr)"/>
<circle cx="240.76" cy="256.4" r="2.6" fill="#000" clip-path="url(#Lr)"/>
<line x1="246.44" y1="208.5" x2="246.44" y2="252.1" stroke="#000" stroke-width="1.1" clip-path="url(#Lr)"/>
<circle cx="246.44" cy="218.7" r="2.6" fill="#000" clip-path="url(#Lr)"/>
<line x1="252.12" y1="208.5" x2="252.12" y2="268" stroke="#000" stroke-width="1.1" clip-path="url(#Lr)"/>
<circle cx="252.12" cy="252.8" r="2.6" fill="#000" clip-path="url(#Lr)"/>
<line x1="257.8" y1="220.2" x2="257.8" y2="268" stroke="#000" stroke-width="1.1" clip-path="url(#Lr)"/>
<circle cx="257.8" cy="252.8" r="2.6" fill="#000" clip-path="url(#Lr)"/>
<line x1="263.48" y1="221.3" x2="263.48" y2="268" stroke="#000" stroke-width="1.1" clip-path="url(#Lr)"/>
<circle cx="263.48" cy="266.4" r="2.6" fill="#000" clip-path="url(#Lr)"/>
<line x1="274.84" y1="207" x2="274.84" y2="256.4" stroke="#000" stroke-width="1.1" clip-path="url(#Lr)"/>
<circle cx="274.84" cy="200" r="2.6" fill="#000" clip-path="url(#Lr)"/>
<line x1="280.52" y1="207" x2="280.52" y2="268" stroke="#000" stroke-width="1.1" clip-path="url(#Lr)"/>
<circle cx="280.52" cy="251.7" r="2.6" fill="#000" clip-path="url(#Lr)"/>
<line x1="291.88" y1="207" x2="291.88" y2="250" stroke="#000" stroke-width="1.1" clip-path="url(#Lr)"/>
<circle cx="291.88" cy="200" r="2.6" fill="#000" clip-path="url(#Lr)"/>
<line x1="297.56" y1="207" x2="297.56" y2="227.7" stroke="#000" stroke-width="1.1" clip-path="url(#Lr)"/>
<circle cx="297.56" cy="200" r="2.6" fill="#000" clip-path="url(#Lr)"/>
<line x1="303.24" y1="207" x2="303.24" y2="268" stroke="#000" stroke-width="1.1" clip-path="url(#Lr)"/>
<line x1="325.96" y1="225" x2="325.96" y2="268" stroke="#000" stroke-width="1.1" clip-path="url(#Lr)"/>
<circle cx="325.96" cy="256.4" r="2.6" fill="#000" clip-path="url(#Lr)"/>
<rect x="44.8" y="207.8" width="284" height="59.4" fill="none" stroke="#000" stroke-width="1"/>
<path d="M44.8 267.2 h3.6 M328.8 267.2 h-3.6 M44.8 262.25 h7.5 M328.8 262.25 h-7.5 M44.8 257.3 h3.6 M328.8 257.3 h-3.6 M44.8 252.35 h3.6 M328.8 252.35 h-3.6 M44.8 247.4 h3.6 M328.8 247.4 h-3.6 M44.8 242.45 h3.6 M328.8 242.45 h-3.6 M44.8 237.5 h7.5 M328.8 237.5 h-7.5 M44.8 232.55 h3.6 M328.8 232.55 h-3.6 M44.8 227.6 h3.6 M328.8 227.6 h-3.6 M44.8 222.65 h3.6 M328.8 222.65 h-3.6 M44.8 217.7 h3.6 M328.8 217.7 h-3.6 M44.8 212.75 h7.5 M328.8 212.75 h-7.5 M44.8 207.8 h3.6 M328.8 207.8 h-3.6" stroke="#000" stroke-width="1" fill="none"/>
<text x="41.5" y="216.55" font-size="10.1" text-anchor="end">1.5</text>
<text x="41.5" y="241.3" font-size="10.1" text-anchor="end">1</text>
<text x="41.5" y="266.05" font-size="10.1" text-anchor="end">0.5</text>
<text transform="translate(9.2,7.4) rotate(-90)" font-size="10.1" text-anchor="end" textLength="72.6" lengthAdjust="spacingAndGlyphs">Events / 20 GeV</text>
<text transform="translate(20.6,212.3) rotate(-90)" font-size="10.6" text-anchor="end" textLength="48.6" lengthAdjust="spacingAndGlyphs">Data / SM</text>
<circle cx="226.1" cy="17.8" r="1.9" fill="#000"/>
<text x="239.4" y="20.5" font-size="9.7" font-weight="bold">data</text>
<rect x="216.1" y="24.8" width="19.4" height="8.5" fill="#ffff99"/>
<text x="239.4" y="31.45" font-size="9.7" font-weight="bold">Z/</text>
<text x="247.8" y="31.45" font-size="10.6" font-family="&quot;Liberation Serif&quot;, serif">&#947;</text>
<text x="253.1" y="29.25" font-size="8.6" font-weight="bold">*</text>
<path d="M257.3 28.85 H266.2 M263.9 26.95 L266.5 28.85 L263.9 30.75" fill="none" stroke="#000" stroke-width="0.95"/>
<text x="266.8" y="31.45" font-size="9.7" font-weight="bold">ee</text>
<rect x="216.1" y="35.75" width="19.4" height="8.5" fill="#99ff99"/>
<text x="239.4" y="42.4" font-size="9.7" font-weight="bold">tt</text>
<line x1="242.8" x2="245.4" y1="34.6" y2="34.6" stroke="#000" stroke-width="1"/>
<rect x="216.1" y="46.7" width="19.4" height="8.5" fill="#ff99ff"/>
<text x="239.4" y="53.35" font-size="9.7" font-weight="bold">diboson</text>
<rect x="216.1" y="57.65" width="19.4" height="8.5" fill="#ffcc99"/>
<text x="239.4" y="64.3" font-size="9.7" font-weight="bold">fake leptons</text>
<rect x="216.1" y="68.6" width="19.4" height="8.5" fill="#9999ff"/>
<text x="239.4" y="75.25" font-size="9.7" font-weight="bold">other</text>
<line x1="216.4" x2="235.5" y1="84.4" y2="84.4" stroke="#1a1aa6" stroke-width="1.6" stroke-dasharray="2.5 1.4"/>
<text x="239.4" y="86.2" font-size="9.7" font-weight="bold">m<tspan font-size="6.2" dy="2.6">LQ</tspan><tspan dy="-2.6"> = 300 GeV</tspan></text>
<line x1="216.4" x2="235.5" y1="95.35" y2="95.35" stroke="#888" stroke-width="1.8" stroke-dasharray="0.9 0.8"/>
<text x="239.4" y="97.15" font-size="9.7" font-weight="bold">m<tspan font-size="6.2" dy="2.6">LQ</tspan><tspan dy="-2.6"> = 600 GeV</tspan></text>
<line x1="216.4" x2="235.5" y1="106.3" y2="106.3" stroke="#ee1c1c" stroke-width="1.6" stroke-dasharray="13.4 2.2 4.2 9"/>
<text x="239.4" y="108.1" font-size="9.7" font-weight="bold">m<tspan font-size="6.2" dy="2.6">LQ</tspan><tspan dy="-2.6"> = 1000 GeV</tspan></text>
<text x="77.5" y="21.9" font-size="10.4" font-weight="bold" font-style="italic">ATLAS</text>
<path d="M77.8 36.9 L78.7 36.1 L80 40.9 L81 32.5 H87" fill="none" stroke="#000" stroke-width="0.95" stroke-linejoin="miter"/>
<path d="M78.8 36.2 L80 40.9" stroke="#000" stroke-width="1.5"/>
<text x="81.8" y="41.2" font-size="10">s = 8 TeV, 20.3 fb<tspan font-size="7" dy="-4.2">-1</tspan></text>
<text x="77.9" y="59.6" font-size="10.7" textLength="26.1" lengthAdjust="spacingAndGlyphs">LQLQ</text>
<line x1="91.1" x2="103.5" y1="50.6" y2="50.6" stroke="#000" stroke-width="0.9"/>
<path d="M104 56.6 H113.3 M111 54.7 L113.6 56.6 L111 58.5" fill="none" stroke="#000" stroke-width="0.95"/>
<text x="114.1" y="59.6" font-size="10.7" textLength="15.2" lengthAdjust="spacingAndGlyphs">eejj</text>
<clipPath id="Rm"><rect x="399.5" y="8.0" width="284" height="195.5"/></clipPath>
<clipPath id="Rr"><rect x="399.5" y="207.8" width="284" height="59.4"/></clipPath>
<path d="M399.5 205.5 L399.5 64.2 L405.18 64.2 L405.18 57.5 L410.86 57.5 L410.86 84.5 L416.54 84.5 L416.54 89.7 L422.22 89.7 L422.22 93.5 L427.9 93.5 L427.9 97 L433.58 97 L433.58 100.5 L439.26 100.5 L439.26 104 L444.94 104 L444.94 107 L450.62 107 L450.62 109.5 L456.3 109.5 L456.3 112.5 L461.98 112.5 L461.98 115.5 L467.66 115.5 L467.66 118.5 L473.34 118.5 L473.34 120.5 L479.02 120.5 L479.02 122.5 L484.7 122.5 L484.7 125 L490.38 125 L490.38 127.7 L496.06 127.7 L496.06 129.2 L501.74 129.2 L501.74 130.7 L507.42 130.7 L507.42 134.5 L513.1 134.5 L513.1 136 L518.78 136 L518.78 138.2 L524.46 138.2 L524.46 139.3 L530.14 139.3 L530.14 139.7 L535.82 139.7 L535.82 143.5 L541.5 143.5 L541.5 148.2 L547.18 148.2 L547.18 149 L552.86 149 L552.86 149.7 L558.54 149.7 L558.54 150.5 L564.22 150.5 L564.22 150.5 L569.9 150.5 L569.9 152.7 L575.58 152.7 L575.58 155 L581.26 155 L581.26 155 L586.94 155 L586.94 156.1 L592.62 156.1 L592.62 157.6 L598.3 157.6 L598.3 159.9 L603.98 159.9 L603.98 163 L609.66 163 L609.66 166.8 L615.34 166.8 L615.34 165.3 L621.02 165.3 L621.02 164.5 L626.7 164.5 L626.7 166.8 L632.38 166.8 L632.38 166.8 L638.06 166.8 L638.06 169.9 L643.74 169.9 L643.74 172.9 L649.42 172.9 L649.42 174.5 L655.1 174.5 L655.1 176 L660.78 176 L660.78 176.8 L666.46 176.8 L666.46 176.8 L672.14 176.8 L672.14 172.9 L677.82 172.9 L677.82 154.5 L683.5 154.5 L683.5 205.5 Z" fill="#ffff99" clip-path="url(#Rm)"/>
<path d="M399.5 205.5 L399.5 93 L405.18 93 L405.18 93.3 L410.86 93.3 L410.86 96.3 L416.54 96.3 L416.54 96.8 L422.22 96.8 L422.22 98.1 L427.9 98.1 L427.9 100 L433.58 100 L433.58 104.2 L439.26 104.2 L439.26 106.5 L444.94 106.5 L444.94 109.5 L450.62 109.5 L450.62 111.7 L456.3 111.7 L456.3 114.7 L461.98 114.7 L461.98 117.7 L467.66 117.7 L467.66 120.7 L473.34 120.7 L473.34 123 L479.02 123 L479.02 125.2 L484.7 125.2 L484.7 127.5 L490.38 127.5 L490.38 130 L496.06 130 L496.06 131.5 L501.74 131.5 L501.74 133.7 L507.42 133.7 L507.42 136.7 L513.1 136.7 L513.1 139 L518.78 139 L518.78 141.2 L524.46 141.2 L524.46 142.7 L530.14 142.7 L530.14 143.5 L535.82 143.5 L535.82 145 L541.5 145 L541.5 152 L547.18 152 L547.18 152.7 L552.86 152.7 L552.86 153.5 L558.54 153.5 L558.54 154.2 L564.22 154.2 L564.22 155 L569.9 155 L569.9 162.5 L575.58 162.5 L575.58 162.5 L581.26 162.5 L581.26 162.5 L586.94 162.5 L586.94 163 L592.62 163 L592.62 168 L598.3 168 L598.3 168 L603.98 168 L603.98 170 L609.66 170 L609.66 172 L615.34 172 L615.34 180.3 L621.02 180.3 L621.02 172 L626.7 172 L626.7 172 L632.38 172 L632.38 172 L638.06 172 L638.06 180.3 L643.74 180.3 L643.74 193.3 L649.42 193.3 L649.42 193.3 L655.1 193.3 L655.1 188 L660.78 188 L660.78 197.9 L666.46 197.9 L666.46 193.3 L672.14 193.3 L672.14 178.8 L677.82 178.8 L677.82 165 L683.5 165 L683.5 205.5 Z" fill="#99ff99" clip-path="url(#Rm)"/>
<path d="M399.5 205.5 L399.5 101 L405.18 101 L405.18 101 L410.86 101 L410.86 119.5 L416.54 119.5 L416.54 121.5 L422.22 121.5 L422.22 124 L427.9 124 L427.9 126.5 L433.58 126.5 L433.58 129 L439.26 129 L439.26 131.5 L444.94 131.5 L444.94 133.7 L450.62 133.7 L450.62 137.5 L456.3 137.5 L456.3 139.7 L461.98 139.7 L461.98 142 L467.66 142 L467.66 143.5 L473.34 143.5 L473.34 151 L479.02 151 L479.02 154.7 L484.7 154.7 L484.7 150.2 L490.38 150.2 L490.38 149.7 L496.06 149.7 L496.06 153.5 L501.74 153.5 L501.74 158 L507.42 158 L507.42 158 L513.1 158 L513.1 157.2 L518.78 157.2 L518.78 168.5 L524.46 168.5 L524.46 158 L530.14 158 L530.14 167.7 L535.82 167.7 L535.82 165.5 L541.5 165.5 L541.5 177.5 L547.18 177.5 L547.18 173.7 L552.86 173.7 L552.86 173.7 L558.54 173.7 L558.54 172.2 L564.22 172.2 L564.22 165.5 L569.9 165.5 L569.9 176 L575.58 176 L575.58 176.7 L581.26 176.7 L581.26 173.7 L586.94 173.7 L586.94 188 L592.62 188 L592.62 173.4 L598.3 173.4 L598.3 173.4 L603.98 173.4 L603.98 173.4 L609.66 173.4 L609.66 180.3 L615.34 180.3 L615.34 205 L621.02 205 L621.02 180.3 L626.7 180.3 L626.7 180.3 L632.38 180.3 L632.38 180.3 L638.06 180.3 L638.06 205 L643.74 205 L643.74 205 L649.42 205 L649.42 205 L655.1 205 L655.1 205 L660.78 205 L660.78 205 L666.46 205 L666.46 205 L672.14 205 L672.14 181.1 L677.82 181.1 L677.82 170 L683.5 170 L683.5 205.5 Z" fill="#ff99ff" clip-path="url(#Rm)"/>
<path d="M399.5 205.5 L399.5 124 L405.18 124 L405.18 128 L410.86 128 L410.86 127.5 L416.54 127.5 L416.54 127.5 L422.22 127.5 L422.22 127.5 L427.9 127.5 L427.9 130.5 L433.58 130.5 L433.58 130.7 L439.26 130.7 L439.26 134.5 L444.94 134.5 L444.94 136.7 L450.62 136.7 L450.62 141.2 L456.3 141.2 L456.3 143.5 L461.98 143.5 L461.98 146.5 L467.66 146.5 L467.66 148 L473.34 148 L473.34 162.2 L479.02 162.2 L479.02 160.7 L484.7 160.7 L484.7 157.7 L490.38 157.7 L490.38 155 L496.06 155 L496.06 159.5 L501.74 159.5 L501.74 172.2 L507.42 172.2 L507.42 162.5 L513.1 162.5 L513.1 165.5 L518.78 165.5 L518.78 178.2 L524.46 178.2 L524.46 176 L530.14 176 L530.14 176 L535.82 176 L535.82 169.2 L541.5 169.2 L541.5 205 L547.18 205 L547.18 205 L552.86 205 L552.86 205 L558.54 205 L558.54 205 L564.22 205 L564.22 205 L569.9 205 L569.9 205 L575.58 205 L575.58 205 L581.26 205 L581.26 205 L586.94 205 L586.94 205 L592.62 205 L592.62 205 L598.3 205 L598.3 205 L603.98 205 L603.98 205 L609.66 205 L609.66 205 L615.34 205 L615.34 205 L621.02 205 L621.02 205 L626.7 205 L626.7 205 L632.38 205 L632.38 205 L638.06 205 L638.06 205 L643.74 205 L643.74 205 L649.42 205 L649.42 205 L655.1 205 L655.1 205 L660.78 205 L660.78 205 L666.46 205 L666.46 205 L672.14 205 L672.14 205 L677.82 205 L677.82 205 L683.5 205 L683.5 205.5 Z" fill="#9999ff" clip-path="url(#Rm)"/>
<path d="M399.5 64.2 L405.18 64.2 L405.18 57.5 L410.86 57.5 L410.86 84.5 L416.54 84.5 L416.54 89.7 L422.22 89.7 L422.22 93.5 L427.9 93.5 L427.9 97 L433.58 97 L433.58 100.5 L439.26 100.5 L439.26 104 L444.94 104 L444.94 107 L450.62 107 L450.62 109.5 L456.3 109.5 L456.3 112.5 L461.98 112.5 L461.98 115.5 L467.66 115.5 L467.66 118.5 L473.34 118.5 L473.34 120.5 L479.02 120.5 L479.02 122.5 L484.7 122.5 L484.7 125 L490.38 125 L490.38 127.7 L496.06 127.7 L496.06 129.2 L501.74 129.2 L501.74 130.7 L507.42 130.7 L507.42 134.5 L513.1 134.5 L513.1 136 L518.78 136 L518.78 138.2 L524.46 138.2 L524.46 139.3 L530.14 139.3 L530.14 139.7 L535.82 139.7 L535.82 143.5 L541.5 143.5 L541.5 148.2 L547.18 148.2 L547.18 149 L552.86 149 L552.86 149.7 L558.54 149.7 L558.54 150.5 L564.22 150.5 L564.22 150.5 L569.9 150.5 L569.9 152.7 L575.58 152.7 L575.58 155 L581.26 155 L581.26 155 L586.94 155 L586.94 156.1 L592.62 156.1 L592.62 157.6 L598.3 157.6 L598.3 159.9 L603.98 159.9 L603.98 163 L609.66 163 L609.66 166.8 L615.34 166.8 L615.34 165.3 L621.02 165.3 L621.02 164.5 L626.7 164.5 L626.7 166.8 L632.38 166.8 L632.38 166.8 L638.06 166.8 L638.06 169.9 L643.74 169.9 L643.74 172.9 L649.42 172.9 L649.42 174.5 L655.1 174.5 L655.1 176 L660.78 176 L660.78 176.8 L666.46 176.8 L666.46 176.8 L672.14 176.8 L672.14 172.9 L677.82 172.9 L677.82 154.5 L683.5 154.5" fill="none" stroke="#000" stroke-width="1.1" clip-path="url(#Rm)"/>
<path d="M399.5 102 L405.18 102 L405.18 103.4 L410.86 103.4 L410.86 100.4 L416.54 100.4 L416.54 99.1 L422.22 99.1 L422.22 99.1 L427.9 99.1 L427.9 97.2 L433.58 97.2 L433.58 96.7 L439.26 96.7 L439.26 96.7 L444.94 96.7 L444.94 96.7 L450.62 96.7 L450.62 97.5 L456.3 97.5 L456.3 98.2 L461.98 98.2 L461.98 98.2 L467.66 98.2 L467.66 99.7 L473.34 99.7 L473.34 100.2 L479.02 100.2 L479.02 102 L484.7 102 L484.7 103.8 L490.38 103.8 L490.38 103 L496.06 103 L496.06 105.2 L501.74 105.2 L501.74 105.5 L507.42 105.5 L507.42 106 L513.1 106 L513.1 110.5 L518.78 110.5 L518.78 111.2 L524.46 111.2 L524.46 112 L530.14 112 L530.14 112.7 L535.82 112.7 L535.82 118 L541.5 118 L541.5 118.3 L547.18 118.3 L547.18 121 L552.86 121 L552.86 119.2 L558.54 119.2 L558.54 119.5 L564.22 119.5 L564.22 122.5 L569.9 122.5 L569.9 122.2 L575.58 122.2 L575.58 123.2 L581.26 123.2 L581.26 122.5 L586.94 122.5 L586.94 129.1 L592.62 129.1 L592.62 132.5 L598.3 132.5 L598.3 132.5 L603.98 132.5 L603.98 130.6 L609.66 130.6 L609.66 130.3 L615.34 130.3 L615.34 133.7 L621.02 133.7 L621.02 135.5 L626.7 135.5 L626.7 152 L632.38 152 L632.38 139 L638.06 139 L638.06 144.4 L643.74 144.4 L643.74 136.8 L649.42 136.8 L649.42 137.5 L655.1 137.5 L655.1 145.6 L660.78 145.6 L660.78 141.3 L666.46 141.3 L666.46 144.4 L672.14 144.4 L672.14 137.5 L677.82 137.5 L677.82 121.4 L683.5 121.4" fill="none" stroke="#1a1aa6" stroke-width="1.6" stroke-dasharray="2.2 1.5" clip-path="url(#Rm)"/>
<path d="M399.5 155.5 L405.18 155.5 L405.18 156.7 L410.86 156.7 L410.86 157 L416.54 157 L416.54 151 L422.22 151 L422.22 155.5 L427.9 155.5 L427.9 151.7 L433.58 151.7 L433.58 149.5 L439.26 149.5 L439.26 149.5 L444.94 149.5 L444.94 151.7 L450.62 151.7 L450.62 148 L456.3 148 L456.3 145.7 L461.98 145.7 L461.98 147.2 L467.66 147.2 L467.66 147.2 L473.34 147.2 L473.34 146.5 L479.02 146.5 L479.02 145.7 L484.7 145.7 L484.7 144.7 L490.38 144.7 L490.38 145 L496.06 145 L496.06 145.5 L501.74 145.5 L501.74 145.5 L507.42 145.5 L507.42 145.5 L513.1 145.5 L513.1 145.5 L518.78 145.5 L518.78 145.5 L524.46 145.5 L524.46 145.5 L530.14 145.5 L530.14 145.5 L535.82 145.5 L535.82 145.5 L541.5 145.5 L541.5 148 L547.18 148 L547.18 148 L552.86 148 L552.86 148 L558.54 148 L558.54 148 L564.22 148 L564.22 148 L569.9 148 L569.9 148 L575.58 148 L575.58 148 L581.26 148 L581.26 148 L586.94 148 L586.94 149.2 L592.62 149.2 L592.62 150 L598.3 150 L598.3 149.5 L603.98 149.5 L603.98 152.3 L609.66 152.3 L609.66 153.8 L615.34 153.8 L615.34 153 L621.02 153 L621.02 152.3 L626.7 152.3 L626.7 153 L632.38 153 L632.38 155.3 L638.06 155.3 L638.06 156.8 L643.74 156.8 L643.74 159.1 L649.42 159.1 L649.42 161.4 L655.1 161.4 L655.1 159.9 L660.78 159.9 L660.78 158.4 L666.46 158.4 L666.46 159.1 L672.14 159.1 L672.14 163.7 L677.82 163.7 L677.82 150 L683.5 150" fill="none" stroke="#1a1a1a" stroke-width="1.3" stroke-dasharray="1.1 1" clip-path="url(#Rm)"/>
<path d="M399.5 203 L405.18 203 L405.18 203 L410.86 203 L410.86 203 L416.54 203 L416.54 201.9 L422.22 201.9 L422.22 197.8 L427.9 197.8 L427.9 203 L433.58 203 L433.58 203 L439.26 203 L439.26 198.7 L444.94 198.7 L444.94 196.3 L450.62 196.3 L450.62 197.5 L456.3 197.5 L456.3 199.7 L461.98 199.7 L461.98 193.3 L467.66 193.3 L467.66 195.2 L473.34 195.2 L473.34 192.2 L479.02 192.2 L479.02 192.2 L484.7 192.2 L484.7 196.3 L490.38 196.3 L490.38 192.3 L496.06 192.3 L496.06 195.7 L501.74 195.7 L501.74 193.5 L507.42 193.5 L507.42 192.7 L513.1 192.7 L513.1 189.3 L518.78 189.3 L518.78 193.5 L524.46 193.5 L524.46 193.2 L530.14 193.2 L530.14 190.8 L535.82 190.8 L535.82 192.3 L541.5 192.3 L541.5 191.7 L547.18 191.7 L547.18 192.7 L552.86 192.7 L552.86 189.3 L558.54 189.3 L558.54 189 L564.22 189 L564.22 189.7 L569.9 189.7 L569.9 191.2 L575.58 191.2 L575.58 191.2 L581.26 191.2 L581.26 189.3 L586.94 189.3 L586.94 191 L592.62 191 L592.62 190.3 L598.3 190.3 L598.3 189.5 L603.98 189.5 L603.98 192.6 L609.66 192.6 L609.66 190.3 L615.34 190.3 L615.34 188.7 L621.02 188.7 L621.02 190.3 L626.7 190.3 L626.7 189.5 L632.38 189.5 L632.38 191.8 L638.06 191.8 L638.06 189.5 L643.74 189.5 L643.74 193.3 L649.42 193.3 L649.42 192.3 L655.1 192.3 L655.1 192.3 L660.78 192.3 L660.78 192.9 L666.46 192.9 L666.46 193.3 L672.14 193.3 L672.14 193.3 L677.82 193.3 L677.82 168 L683.5 168" fill="none" stroke="#ee1c1c" stroke-width="1.6" stroke-dasharray="9 2 4 2" clip-path="url(#Rm)"/>
<line x1="402.34" y1="64.15" x2="402.34" y2="64.25" stroke="#000" stroke-width="1.1" clip-path="url(#Rm)"/>
<circle cx="402.34" cy="64.2" r="2.6" fill="#000" clip-path="url(#Rm)"/>
<line x1="408.02" y1="58.66" x2="408.02" y2="58.74" stroke="#000" stroke-width="1.1" clip-path="url(#Rm)"/>
<circle cx="408.02" cy="58.7" r="2.6" fill="#000" clip-path="url(#Rm)"/>
<line x1="413.7" y1="85.84" x2="413.7" y2="86.17" stroke="#000" stroke-width="1.1" clip-path="url(#Rm)"/>
<circle cx="413.7" cy="86" r="2.6" fill="#000" clip-path="url(#Rm)"/>
<line x1="419.38" y1="90.79" x2="419.38" y2="91.22" stroke="#000" stroke-width="1.1" clip-path="url(#Rm)"/>
<circle cx="419.38" cy="91" r="2.6" fill="#000" clip-path="url(#Rm)"/>
<line x1="425.06" y1="93.95" x2="425.06" y2="94.46" stroke="#000" stroke-width="1.1" clip-path="url(#Rm)"/>
<circle cx="425.06" cy="94.2" r="2.6" fill="#000" clip-path="url(#Rm)"/>
<line x1="430.74" y1="97.11" x2="430.74" y2="97.7" stroke="#000" stroke-width="1.1" clip-path="url(#Rm)"/>
<circle cx="430.74" cy="97.4" r="2.6" fill="#000" clip-path="url(#Rm)"/>
<line x1="436.42" y1="100.45" x2="436.42" y2="101.16" stroke="#000" stroke-width="1.1" clip-path="url(#Rm)"/>
<circle cx="436.42" cy="100.8" r="2.6" fill="#000" clip-path="url(#Rm)"/>
<line x1="442.1" y1="103.79" x2="442.1" y2="104.63" stroke="#000" stroke-width="1.1" clip-path="url(#Rm)"/>
<circle cx="442.1" cy="104.2" r="2.6" fill="#000" clip-path="url(#Rm)"/>
<line x1="447.78" y1="107.01" x2="447.78" y2="108.01" stroke="#000" stroke-width="1.1" clip-path="url(#Rm)"/>
<circle cx="447.78" cy="107.5" r="2.6" fill="#000" clip-path="url(#Rm)"/>
<line x1="453.46" y1="108.48" x2="453.46" y2="109.55" stroke="#000" stroke-width="1.1" clip-path="url(#Rm)"/>
<circle cx="453.46" cy="109" r="2.6" fill="#000" clip-path="url(#Rm)"/>
<line x1="459.14" y1="111.88" x2="459.14" y2="113.16" stroke="#000" stroke-width="1.1" clip-path="url(#Rm)"/>
<circle cx="459.14" cy="112.5" r="2.6" fill="#000" clip-path="url(#Rm)"/>
<line x1="464.82" y1="114.49" x2="464.82" y2="115.97" stroke="#000" stroke-width="1.1" clip-path="url(#Rm)"/>
<circle cx="464.82" cy="115.2" r="2.6" fill="#000" clip-path="url(#Rm)"/>
<line x1="470.5" y1="117.95" x2="470.5" y2="119.73" stroke="#000" stroke-width="1.1" clip-path="url(#Rm)"/>
<circle cx="470.5" cy="118.8" r="2.6" fill="#000" clip-path="url(#Rm)"/>
<line x1="476.18" y1="119.77" x2="476.18" y2="121.73" stroke="#000" stroke-width="1.1" clip-path="url(#Rm)"/>
<circle cx="476.18" cy="120.7" r="2.6" fill="#000" clip-path="url(#Rm)"/>
<line x1="481.86" y1="120.91" x2="481.86" y2="123" stroke="#000" stroke-width="1.1" clip-path="url(#Rm)"/>
<circle cx="481.86" cy="121.9" r="2.6" fill="#000" clip-path="url(#Rm)"/>
<line x1="487.54" y1="123.38" x2="487.54" y2="125.77" stroke="#000" stroke-width="1.1" clip-path="url(#Rm)"/>
<circle cx="487.54" cy="124.5" r="2.6" fill="#000" clip-path="url(#Rm)"/>
<line x1="493.22" y1="126.21" x2="493.22" y2="129.2" stroke="#000" stroke-width="1.1" clip-path="url(#Rm)"/>
<circle cx="493.22" cy="127.7" r="2.6" fill="#000" clip-path="url(#Rm)"/>
<line x1="498.9" y1="131.3" x2="498.9" y2="135.33" stroke="#000" stroke-width="1.1" clip-path="url(#Rm)"/>
<circle cx="498.9" cy="133.3" r="2.6" fill="#000" clip-path="url(#Rm)"/>
<line x1="504.58" y1="129.67" x2="504.58" y2="133.36" stroke="#000" stroke-width="1.1" clip-path="url(#Rm)"/>
<circle cx="504.58" cy="131.5" r="2.6" fill="#000" clip-path="url(#Rm)"/>
<line x1="510.26" y1="133.23" x2="510.26" y2="137.82" stroke="#000" stroke-width="1.1" clip-path="url(#Rm)"/>
<circle cx="510.26" cy="135.5" r="2.6" fill="#000" clip-path="url(#Rm)"/>
<line x1="515.94" y1="136.21" x2="515.94" y2="141.88" stroke="#000" stroke-width="1.1" clip-path="url(#Rm)"/>
<circle cx="515.94" cy="139" r="2.6" fill="#000" clip-path="url(#Rm)"/>
<line x1="521.62" y1="136.21" x2="521.62" y2="141.88" stroke="#000" stroke-width="1.1" clip-path="url(#Rm)"/>
<circle cx="521.62" cy="139" r="2.6" fill="#000" clip-path="url(#Rm)"/>
<line x1="527.3" y1="139.4" x2="527.3" y2="146.14" stroke="#000" stroke-width="1.1" clip-path="url(#Rm)"/>
<circle cx="527.3" cy="142.7" r="2.6" fill="#000" clip-path="url(#Rm)"/>
<line x1="532.98" y1="137.3" x2="532.98" y2="143.2" stroke="#000" stroke-width="1.1" clip-path="url(#Rm)"/>
<circle cx="532.98" cy="140.2" r="2.6" fill="#000" clip-path="url(#Rm)"/>
<line x1="538.66" y1="137.3" x2="538.66" y2="143.2" stroke="#000" stroke-width="1.1" clip-path="url(#Rm)"/>
<circle cx="538.66" cy="140.2" r="2.6" fill="#000" clip-path="url(#Rm)"/>
<line x1="544.34" y1="144.65" x2="544.34" y2="155.23" stroke="#000" stroke-width="1.1" clip-path="url(#Rm)"/>
<circle cx="544.34" cy="149.7" r="2.6" fill="#000" clip-path="url(#Rm)"/>
<line x1="550.02" y1="144.65" x2="550.02" y2="155.23" stroke="#000" stroke-width="1.1" clip-path="url(#Rm)"/>
<circle cx="550.02" cy="149.7" r="2.6" fill="#000" clip-path="url(#Rm)"/>
<line x1="555.7" y1="145.51" x2="555.7" y2="157.56" stroke="#000" stroke-width="1.1" clip-path="url(#Rm)"/>
<circle cx="555.7" cy="151.2" r="2.6" fill="#000" clip-path="url(#Rm)"/>
<line x1="561.38" y1="145.51" x2="561.38" y2="157.56" stroke="#000" stroke-width="1.1" clip-path="url(#Rm)"/>
<circle cx="561.38" cy="151.2" r="2.6" fill="#000" clip-path="url(#Rm)"/>
<line x1="567.06" y1="147.56" x2="567.06" y2="161.88" stroke="#000" stroke-width="1.1" clip-path="url(#Rm)"/>
<circle cx="567.06" cy="154.2" r="2.6" fill="#000" clip-path="url(#Rm)"/>
<line x1="572.74" y1="144.65" x2="572.74" y2="155.23" stroke="#000" stroke-width="1.1" clip-path="url(#Rm)"/>
<circle cx="572.74" cy="149.7" r="2.6" fill="#000" clip-path="url(#Rm)"/>
<line x1="578.42" y1="153.83" x2="578.42" y2="182.66" stroke="#000" stroke-width="1.1" clip-path="url(#Rm)"/>
<circle cx="578.42" cy="165.5" r="2.6" fill="#000" clip-path="url(#Rm)"/>
<line x1="589.78" y1="150.68" x2="589.78" y2="169.05" stroke="#000" stroke-width="1.1" clip-path="url(#Rm)"/>
<circle cx="589.78" cy="158.9" r="2.6" fill="#000" clip-path="url(#Rm)"/>
<line x1="601.14" y1="154.03" x2="601.14" y2="182.86" stroke="#000" stroke-width="1.1" clip-path="url(#Rm)"/>
<circle cx="601.14" cy="165.7" r="2.6" fill="#000" clip-path="url(#Rm)"/>
<line x1="606.82" y1="154.03" x2="606.82" y2="182.86" stroke="#000" stroke-width="1.1" clip-path="url(#Rm)"/>
<circle cx="606.82" cy="165.7" r="2.6" fill="#000" clip-path="url(#Rm)"/>
<line x1="612.5" y1="154.03" x2="612.5" y2="182.86" stroke="#000" stroke-width="1.1" clip-path="url(#Rm)"/>
<circle cx="612.5" cy="165.7" r="2.6" fill="#000" clip-path="url(#Rm)"/>
<line x1="623.86" y1="148.36" x2="623.86" y2="162.68" stroke="#000" stroke-width="1.1" clip-path="url(#Rm)"/>
<circle cx="623.86" cy="155" r="2.6" fill="#000" clip-path="url(#Rm)"/>
<line x1="635.22" y1="154.03" x2="635.22" y2="182.86" stroke="#000" stroke-width="1.1" clip-path="url(#Rm)"/>
<circle cx="635.22" cy="165.7" r="2.6" fill="#000" clip-path="url(#Rm)"/>
<line x1="646.58" y1="154.03" x2="646.58" y2="182.86" stroke="#000" stroke-width="1.1" clip-path="url(#Rm)"/>
<circle cx="646.58" cy="165.7" r="2.6" fill="#000" clip-path="url(#Rm)"/>
<line x1="657.94" y1="150.68" x2="657.94" y2="169.05" stroke="#000" stroke-width="1.1" clip-path="url(#Rm)"/>
<circle cx="657.94" cy="158.9" r="2.6" fill="#000" clip-path="url(#Rm)"/>
<line x1="680.66" y1="154.03" x2="680.66" y2="182.86" stroke="#000" stroke-width="1.1" clip-path="url(#Rm)"/>
<circle cx="680.66" cy="165.7" r="2.6" fill="#000" clip-path="url(#Rm)"/>
<rect x="399.5" y="8.0" width="284" height="195.5" fill="none" stroke="#000" stroke-width="1"/>
<text x="408.02" y="278.7" font-size="10.1" text-anchor="middle">100</text>
<text x="436.42" y="278.7" font-size="10.1" text-anchor="middle">200</text>
<text x="464.82" y="278.7" font-size="10.1" text-anchor="middle">300</text>
<text x="493.22" y="278.7" font-size="10.1" text-anchor="middle">400</text>
<text x="521.62" y="278.7" font-size="10.1" text-anchor="middle">500</text>
<text x="550.02" y="278.7" font-size="10.1" text-anchor="middle">600</text>
<text x="578.42" y="278.7" font-size="10.1" text-anchor="middle">700</text>
<text x="606.82" y="278.7" font-size="10.1" text-anchor="middle">800</text>
<text x="635.22" y="278.7" font-size="10.1" text-anchor="middle">900</text>
<text x="663.62" y="278.7" font-size="10.1" text-anchor="middle">1000</text>
<path d="M402.34 203.5 v-2.6 M402.34 8 v2.6 M402.34 267.2 v-2.4 M402.34 207.8 v2.4 M408.02 203.5 v-5 M408.02 8 v5 M408.02 267.2 v-4.6 M408.02 207.8 v4.6 M413.7 203.5 v-2.6 M413.7 8 v2.6 M413.7 267.2 v-2.4 M413.7 207.8 v2.4 M419.38 203.5 v-2.6 M419.38 8 v2.6 M419.38 267.2 v-2.4 M419.38 207.8 v2.4 M425.06 203.5 v-2.6 M425.06 8 v2.6 M425.06 267.2 v-2.4 M425.06 207.8 v2.4 M430.74 203.5 v-2.6 M430.74 8 v2.6 M430.74 267.2 v-2.4 M430.74 207.8 v2.4 M436.42 203.5 v-5 M436.42 8 v5 M436.42 267.2 v-4.6 M436.42 207.8 v4.6 M442.1 203.5 v-2.6 M442.1 8 v2.6 M442.1 267.2 v-2.4 M442.1 207.8 v2.4 M447.78 203.5 v-2.6 M447.78 8 v2.6 M447.78 267.2 v-2.4 M447.78 207.8 v2.4 M453.46 203.5 v-2.6 M453.46 8 v2.6 M453.46 267.2 v-2.4 M453.46 207.8 v2.4 M459.14 203.5 v-2.6 M459.14 8 v2.6 M459.14 267.2 v-2.4 M459.14 207.8 v2.4 M464.82 203.5 v-5 M464.82 8 v5 M464.82 267.2 v-4.6 M464.82 207.8 v4.6 M470.5 203.5 v-2.6 M470.5 8 v2.6 M470.5 267.2 v-2.4 M470.5 207.8 v2.4 M476.18 203.5 v-2.6 M476.18 8 v2.6 M476.18 267.2 v-2.4 M476.18 207.8 v2.4 M481.86 203.5 v-2.6 M481.86 8 v2.6 M481.86 267.2 v-2.4 M481.86 207.8 v2.4 M487.54 203.5 v-2.6 M487.54 8 v2.6 M487.54 267.2 v-2.4 M487.54 207.8 v2.4 M493.22 203.5 v-5 M493.22 8 v5 M493.22 267.2 v-4.6 M493.22 207.8 v4.6 M498.9 203.5 v-2.6 M498.9 8 v2.6 M498.9 267.2 v-2.4 M498.9 207.8 v2.4 M504.58 203.5 v-2.6 M504.58 8 v2.6 M504.58 267.2 v-2.4 M504.58 207.8 v2.4 M510.26 203.5 v-2.6 M510.26 8 v2.6 M510.26 267.2 v-2.4 M510.26 207.8 v2.4 M515.94 203.5 v-2.6 M515.94 8 v2.6 M515.94 267.2 v-2.4 M515.94 207.8 v2.4 M521.62 203.5 v-5 M521.62 8 v5 M521.62 267.2 v-4.6 M521.62 207.8 v4.6 M527.3 203.5 v-2.6 M527.3 8 v2.6 M527.3 267.2 v-2.4 M527.3 207.8 v2.4 M532.98 203.5 v-2.6 M532.98 8 v2.6 M532.98 267.2 v-2.4 M532.98 207.8 v2.4 M538.66 203.5 v-2.6 M538.66 8 v2.6 M538.66 267.2 v-2.4 M538.66 207.8 v2.4 M544.34 203.5 v-2.6 M544.34 8 v2.6 M544.34 267.2 v-2.4 M544.34 207.8 v2.4 M550.02 203.5 v-5 M550.02 8 v5 M550.02 267.2 v-4.6 M550.02 207.8 v4.6 M555.7 203.5 v-2.6 M555.7 8 v2.6 M555.7 267.2 v-2.4 M555.7 207.8 v2.4 M561.38 203.5 v-2.6 M561.38 8 v2.6 M561.38 267.2 v-2.4 M561.38 207.8 v2.4 M567.06 203.5 v-2.6 M567.06 8 v2.6 M567.06 267.2 v-2.4 M567.06 207.8 v2.4 M572.74 203.5 v-2.6 M572.74 8 v2.6 M572.74 267.2 v-2.4 M572.74 207.8 v2.4 M578.42 203.5 v-5 M578.42 8 v5 M578.42 267.2 v-4.6 M578.42 207.8 v4.6 M584.1 203.5 v-2.6 M584.1 8 v2.6 M584.1 267.2 v-2.4 M584.1 207.8 v2.4 M589.78 203.5 v-2.6 M589.78 8 v2.6 M589.78 267.2 v-2.4 M589.78 207.8 v2.4 M595.46 203.5 v-2.6 M595.46 8 v2.6 M595.46 267.2 v-2.4 M595.46 207.8 v2.4 M601.14 203.5 v-2.6 M601.14 8 v2.6 M601.14 267.2 v-2.4 M601.14 207.8 v2.4 M606.82 203.5 v-5 M606.82 8 v5 M606.82 267.2 v-4.6 M606.82 207.8 v4.6 M612.5 203.5 v-2.6 M612.5 8 v2.6 M612.5 267.2 v-2.4 M612.5 207.8 v2.4 M618.18 203.5 v-2.6 M618.18 8 v2.6 M618.18 267.2 v-2.4 M618.18 207.8 v2.4 M623.86 203.5 v-2.6 M623.86 8 v2.6 M623.86 267.2 v-2.4 M623.86 207.8 v2.4 M629.54 203.5 v-2.6 M629.54 8 v2.6 M629.54 267.2 v-2.4 M629.54 207.8 v2.4 M635.22 203.5 v-5 M635.22 8 v5 M635.22 267.2 v-4.6 M635.22 207.8 v4.6 M640.9 203.5 v-2.6 M640.9 8 v2.6 M640.9 267.2 v-2.4 M640.9 207.8 v2.4 M646.58 203.5 v-2.6 M646.58 8 v2.6 M646.58 267.2 v-2.4 M646.58 207.8 v2.4 M652.26 203.5 v-2.6 M652.26 8 v2.6 M652.26 267.2 v-2.4 M652.26 207.8 v2.4 M657.94 203.5 v-2.6 M657.94 8 v2.6 M657.94 267.2 v-2.4 M657.94 207.8 v2.4 M663.62 203.5 v-5 M663.62 8 v5 M663.62 267.2 v-4.6 M663.62 207.8 v4.6 M669.3 203.5 v-2.6 M669.3 8 v2.6 M669.3 267.2 v-2.4 M669.3 207.8 v2.4 M674.98 203.5 v-2.6 M674.98 8 v2.6 M674.98 267.2 v-2.4 M674.98 207.8 v2.4 M680.66 203.5 v-2.6 M680.66 8 v2.6 M680.66 267.2 v-2.4 M680.66 207.8 v2.4 M399.5 8.2 h10 M683.5 8.2 h-10 M399.5 30.7 h10 M683.5 30.7 h-10 M399.5 23.93 h5 M683.5 23.93 h-5 M399.5 19.96 h5 M683.5 19.96 h-5 M399.5 17.15 h5 M683.5 17.15 h-5 M399.5 14.97 h5 M683.5 14.97 h-5 M399.5 13.19 h5 M683.5 13.19 h-5 M399.5 11.69 h5 M683.5 11.69 h-5 M399.5 10.38 h5 M683.5 10.38 h-5 M399.5 9.23 h5 M683.5 9.23 h-5 M399.5 53.2 h10 M683.5 53.2 h-10 M399.5 46.43 h5 M683.5 46.43 h-5 M399.5 42.46 h5 M683.5 42.46 h-5 M399.5 39.65 h5 M683.5 39.65 h-5 M399.5 37.47 h5 M683.5 37.47 h-5 M399.5 35.69 h5 M683.5 35.69 h-5 M399.5 34.19 h5 M683.5 34.19 h-5 M399.5 32.88 h5 M683.5 32.88 h-5 M399.5 31.73 h5 M683.5 31.73 h-5 M399.5 75.7 h10 M683.5 75.7 h-10 M399.5 68.93 h5 M683.5 68.93 h-5 M399.5 64.96 h5 M683.5 64.96 h-5 M399.5 62.15 h5 M683.5 62.15 h-5 M399.5 59.97 h5 M683.5 59.97 h-5 M399.5 58.19 h5 M683.5 58.19 h-5 M399.5 56.69 h5 M683.5 56.69 h-5 M399.5 55.38 h5 M683.5 55.38 h-5 M399.5 54.23 h5 M683.5 54.23 h-5 M399.5 98.2 h10 M683.5 98.2 h-10 M399.5 91.43 h5 M683.5 91.43 h-5 M399.5 87.46 h5 M683.5 87.46 h-5 M399.5 84.65 h5 M683.5 84.65 h-5 M399.5 82.47 h5 M683.5 82.47 h-5 M399.5 80.69 h5 M683.5 80.69 h-5 M399.5 79.19 h5 M683.5 79.19 h-5 M399.5 77.88 h5 M683.5 77.88 h-5 M399.5 76.73 h5 M683.5 76.73 h-5 M399.5 120.7 h10 M683.5 120.7 h-10 M399.5 113.93 h5 M683.5 113.93 h-5 M399.5 109.96 h5 M683.5 109.96 h-5 M399.5 107.15 h5 M683.5 107.15 h-5 M399.5 104.97 h5 M683.5 104.97 h-5 M399.5 103.19 h5 M683.5 103.19 h-5 M399.5 101.69 h5 M683.5 101.69 h-5 M399.5 100.38 h5 M683.5 100.38 h-5 M399.5 99.23 h5 M683.5 99.23 h-5 M399.5 143.2 h10 M683.5 143.2 h-10 M399.5 136.43 h5 M683.5 136.43 h-5 M399.5 132.46 h5 M683.5 132.46 h-5 M399.5 129.65 h5 M683.5 129.65 h-5 M399.5 127.47 h5 M683.5 127.47 h-5 M399.5 125.69 h5 M683.5 125.69 h-5 M399.5 124.19 h5 M683.5 124.19 h-5 M399.5 122.88 h5 M683.5 122.88 h-5 M399.5 121.73 h5 M683.5 121.73 h-5 M399.5 165.7 h10 M683.5 165.7 h-10 M399.5 158.93 h5 M683.5 158.93 h-5 M399.5 154.96 h5 M683.5 154.96 h-5 M399.5 152.15 h5 M683.5 152.15 h-5 M399.5 149.97 h5 M683.5 149.97 h-5 M399.5 148.19 h5 M683.5 148.19 h-5 M399.5 146.69 h5 M683.5 146.69 h-5 M399.5 145.38 h5 M683.5 145.38 h-5 M399.5 144.23 h5 M683.5 144.23 h-5 M399.5 188.2 h10 M683.5 188.2 h-10 M399.5 181.43 h5 M683.5 181.43 h-5 M399.5 177.46 h5 M683.5 177.46 h-5 M399.5 174.65 h5 M683.5 174.65 h-5 M399.5 172.47 h5 M683.5 172.47 h-5 M399.5 170.69 h5 M683.5 170.69 h-5 M399.5 169.19 h5 M683.5 169.19 h-5 M399.5 167.88 h5 M683.5 167.88 h-5 M399.5 166.73 h5 M683.5 166.73 h-5 M399.5 199.96 h5 M683.5 199.96 h-5 M399.5 197.15 h5 M683.5 197.15 h-5 M399.5 194.97 h5 M683.5 194.97 h-5 M399.5 193.19 h5 M683.5 193.19 h-5 M399.5 191.69 h5 M683.5 191.69 h-5 M399.5 190.38 h5 M683.5 190.38 h-5 M399.5 189.23 h5 M683.5 189.23 h-5" stroke="#000" stroke-width="1" fill="none"/>
<text x="396.3" y="13" font-size="10" text-anchor="end">10<tspan font-size="7" dy="-5">7</tspan></text>
<text x="396.3" y="35.5" font-size="10" text-anchor="end">10<tspan font-size="7" dy="-5">6</tspan></text>
<text x="396.3" y="58" font-size="10" text-anchor="end">10<tspan font-size="7" dy="-5">5</tspan></text>
<text x="396.3" y="80.5" font-size="10" text-anchor="end">10<tspan font-size="7" dy="-5">4</tspan></text>
<text x="396.3" y="103" font-size="10" text-anchor="end">10<tspan font-size="7" dy="-5">3</tspan></text>
<text x="396.3" y="125.5" font-size="10" text-anchor="end">10<tspan font-size="7" dy="-5">2</tspan></text>
<text x="396.3" y="148" font-size="10" text-anchor="end">10</text>
<text x="395.8" y="170.5" font-size="10" text-anchor="end">1</text>
<text x="396.3" y="193" font-size="10" text-anchor="end">10<tspan font-size="7" dy="-5">&#8211;1</tspan></text>
<rect x="513.1" y="234.5" width="5.7" height="6" fill="url(#hatch)" clip-path="url(#Rr)"/>
<rect x="518.78" y="234.5" width="5.7" height="6" fill="url(#hatch)" clip-path="url(#Rr)"/>
<rect x="524.46" y="234.5" width="5.7" height="6" fill="url(#hatch)" clip-path="url(#Rr)"/>
<rect x="530.14" y="234.5" width="5.7" height="6" fill="url(#hatch)" clip-path="url(#Rr)"/>
<rect x="535.82" y="234.5" width="5.7" height="6" fill="url(#hatch)" clip-path="url(#Rr)"/>
<rect x="541.5" y="234.5" width="5.7" height="6" fill="url(#hatch)" clip-path="url(#Rr)"/>
<rect x="547.18" y="233" width="5.7" height="9" fill="url(#hatch)" clip-path="url(#Rr)"/>
<rect x="552.86" y="233" width="5.7" height="9" fill="url(#hatch)" clip-path="url(#Rr)"/>
<rect x="558.54" y="233" width="5.7" height="9" fill="url(#hatch)" clip-path="url(#Rr)"/>
<rect x="564.22" y="233" width="5.7" height="9" fill="url(#hatch)" clip-path="url(#Rr)"/>
<rect x="569.9" y="233" width="5.7" height="9" fill="url(#hatch)" clip-path="url(#Rr)"/>
<rect x="575.58" y="233" width="5.7" height="9" fill="url(#hatch)" clip-path="url(#Rr)"/>
<rect x="581.26" y="233" width="5.7" height="9" fill="url(#hatch)" clip-path="url(#Rr)"/>
<rect x="586.94" y="231" width="5.7" height="13" fill="url(#hatch)" clip-path="url(#Rr)"/>
<rect x="592.62" y="231" width="5.7" height="13" fill="url(#hatch)" clip-path="url(#Rr)"/>
<rect x="598.3" y="231" width="5.7" height="13" fill="url(#hatch)" clip-path="url(#Rr)"/>
<rect x="603.98" y="231" width="5.7" height="13" fill="url(#hatch)" clip-path="url(#Rr)"/>
<rect x="609.66" y="231" width="5.7" height="13" fill="url(#hatch)" clip-path="url(#Rr)"/>
<rect x="615.34" y="229.5" width="5.7" height="16" fill="url(#hatch)" clip-path="url(#Rr)"/>
<rect x="621.02" y="229.5" width="5.7" height="16" fill="url(#hatch)" clip-path="url(#Rr)"/>
<rect x="626.7" y="229.5" width="5.7" height="16" fill="url(#hatch)" clip-path="url(#Rr)"/>
<rect x="632.38" y="229.5" width="5.7" height="16" fill="url(#hatch)" clip-path="url(#Rr)"/>
<rect x="638.06" y="229.5" width="5.7" height="16" fill="url(#hatch)" clip-path="url(#Rr)"/>
<rect x="643.74" y="229.5" width="5.7" height="16" fill="url(#hatch)" clip-path="url(#Rr)"/>
<rect x="649.42" y="229.5" width="5.7" height="16" fill="url(#hatch)" clip-path="url(#Rr)"/>
<rect x="655.1" y="229.5" width="5.7" height="16" fill="url(#hatch)" clip-path="url(#Rr)"/>
<rect x="660.78" y="229.5" width="5.7" height="16" fill="url(#hatch)" clip-path="url(#Rr)"/>
<rect x="666.46" y="229.5" width="5.7" height="16" fill="url(#hatch)" clip-path="url(#Rr)"/>
<rect x="672.14" y="229.5" width="5.7" height="16" fill="url(#hatch)" clip-path="url(#Rr)"/>
<rect x="677.82" y="229.5" width="5.7" height="16" fill="url(#hatch)" clip-path="url(#Rr)"/>
<line x1="399.5" x2="683.5" y1="257.3" y2="257.3" stroke="#777" stroke-width="0.9" stroke-dasharray="1 1.3"/>
<line x1="399.5" x2="683.5" y1="247.4" y2="247.4" stroke="#777" stroke-width="0.9" stroke-dasharray="1 1.3"/>
<line x1="399.5" x2="683.5" y1="227.6" y2="227.6" stroke="#777" stroke-width="0.9" stroke-dasharray="1 1.3"/>
<line x1="399.5" x2="683.5" y1="217.7" y2="217.7" stroke="#777" stroke-width="0.9" stroke-dasharray="1 1.3"/>
<line x1="399.5" x2="683.5" y1="237.5" y2="237.5" stroke="#000" stroke-width="0.9" stroke-dasharray="3 2"/>
<line x1="402.34" y1="234.6" x2="402.34" y2="237.6" stroke="#000" stroke-width="1.1" clip-path="url(#Rr)"/>
<circle cx="402.34" cy="236.1" r="2.6" fill="#000" clip-path="url(#Rr)"/>
<line x1="408.02" y1="236.28" x2="408.02" y2="239.52" stroke="#000" stroke-width="1.1" clip-path="url(#Rr)"/>
<circle cx="408.02" cy="237.9" r="2.6" fill="#000" clip-path="url(#Rr)"/>
<line x1="413.7" y1="236.16" x2="413.7" y2="239.64" stroke="#000" stroke-width="1.1" clip-path="url(#Rr)"/>
<circle cx="413.7" cy="237.9" r="2.6" fill="#000" clip-path="url(#Rr)"/>
<line x1="419.38" y1="237.14" x2="419.38" y2="240.86" stroke="#000" stroke-width="1.1" clip-path="url(#Rr)"/>
<circle cx="419.38" cy="239" r="2.6" fill="#000" clip-path="url(#Rr)"/>
<line x1="425.06" y1="235.52" x2="425.06" y2="239.48" stroke="#000" stroke-width="1.1" clip-path="url(#Rr)"/>
<circle cx="425.06" cy="237.5" r="2.6" fill="#000" clip-path="url(#Rr)"/>
<line x1="430.74" y1="235.4" x2="430.74" y2="239.6" stroke="#000" stroke-width="1.1" clip-path="url(#Rr)"/>
<circle cx="430.74" cy="237.5" r="2.6" fill="#000" clip-path="url(#Rr)"/>
<line x1="436.42" y1="234.88" x2="436.42" y2="239.32" stroke="#000" stroke-width="1.1" clip-path="url(#Rr)"/>
<circle cx="436.42" cy="237.1" r="2.6" fill="#000" clip-path="url(#Rr)"/>
<line x1="442.1" y1="236.66" x2="442.1" y2="241.34" stroke="#000" stroke-width="1.1" clip-path="url(#Rr)"/>
<circle cx="442.1" cy="239" r="2.6" fill="#000" clip-path="url(#Rr)"/>
<line x1="447.78" y1="237.34" x2="447.78" y2="242.26" stroke="#000" stroke-width="1.1" clip-path="url(#Rr)"/>
<circle cx="447.78" cy="239.8" r="2.6" fill="#000" clip-path="url(#Rr)"/>
<line x1="453.46" y1="233.02" x2="453.46" y2="238.18" stroke="#000" stroke-width="1.1" clip-path="url(#Rr)"/>
<circle cx="453.46" cy="235.6" r="2.6" fill="#000" clip-path="url(#Rr)"/>
<line x1="459.14" y1="234.4" x2="459.14" y2="239.8" stroke="#000" stroke-width="1.1" clip-path="url(#Rr)"/>
<circle cx="459.14" cy="237.1" r="2.6" fill="#000" clip-path="url(#Rr)"/>
<line x1="464.82" y1="234.68" x2="464.82" y2="240.32" stroke="#000" stroke-width="1.1" clip-path="url(#Rr)"/>
<circle cx="464.82" cy="237.5" r="2.6" fill="#000" clip-path="url(#Rr)"/>
<line x1="470.5" y1="239.8" x2="470.5" y2="245.8" stroke="#000" stroke-width="1.1" clip-path="url(#Rr)"/>
<circle cx="470.5" cy="242.8" r="2.6" fill="#000" clip-path="url(#Rr)"/>
<line x1="476.18" y1="233.6" x2="476.18" y2="242.2" stroke="#000" stroke-width="1.1" clip-path="url(#Rr)"/>
<circle cx="476.18" cy="237.9" r="2.6" fill="#000" clip-path="url(#Rr)"/>
<line x1="481.86" y1="227.7" x2="481.86" y2="239.7" stroke="#000" stroke-width="1.1" clip-path="url(#Rr)"/>
<circle cx="481.86" cy="233.7" r="2.6" fill="#000" clip-path="url(#Rr)"/>
<line x1="487.54" y1="225.1" x2="487.54" y2="240.3" stroke="#000" stroke-width="1.1" clip-path="url(#Rr)"/>
<circle cx="487.54" cy="232.7" r="2.6" fill="#000" clip-path="url(#Rr)"/>
<line x1="493.22" y1="230.8" x2="493.22" y2="246" stroke="#000" stroke-width="1.1" clip-path="url(#Rr)"/>
<circle cx="493.22" cy="239" r="2.6" fill="#000" clip-path="url(#Rr)"/>
<line x1="498.9" y1="246" x2="498.9" y2="260.3" stroke="#000" stroke-width="1.1" clip-path="url(#Rr)"/>
<circle cx="498.9" cy="253.7" r="2.6" fill="#000" clip-path="url(#Rr)"/>
<line x1="504.58" y1="224.1" x2="504.58" y2="244.1" stroke="#000" stroke-width="1.1" clip-path="url(#Rr)"/>
<circle cx="504.58" cy="234.6" r="2.6" fill="#000" clip-path="url(#Rr)"/>
<line x1="510.26" y1="234.6" x2="510.26" y2="254.6" stroke="#000" stroke-width="1.1" clip-path="url(#Rr)"/>
<circle cx="510.26" cy="245.5" r="2.6" fill="#000" clip-path="url(#Rr)"/>
<line x1="515.94" y1="237.5" x2="515.94" y2="259.4" stroke="#000" stroke-width="1.1" clip-path="url(#Rr)"/>
<circle cx="515.94" cy="250.2" r="2.6" fill="#000" clip-path="url(#Rr)"/>
<line x1="521.62" y1="224.1" x2="521.62" y2="251.8" stroke="#000" stroke-width="1.1" clip-path="url(#Rr)"/>
<circle cx="521.62" cy="239.4" r="2.6" fill="#000" clip-path="url(#Rr)"/>
<line x1="527.3" y1="238.4" x2="527.3" y2="264.1" stroke="#000" stroke-width="1.1" clip-path="url(#Rr)"/>
<circle cx="527.3" cy="252.7" r="2.6" fill="#000" clip-path="url(#Rr)"/>
<line x1="532.98" y1="207" x2="532.98" y2="243.2" stroke="#000" stroke-width="1.1" clip-path="url(#Rr)"/>
<circle cx="532.98" cy="227.6" r="2.6" fill="#000" clip-path="url(#Rr)"/>
<line x1="538.66" y1="207" x2="538.66" y2="231.8" stroke="#000" stroke-width="1.1" clip-path="url(#Rr)"/>
<circle cx="538.66" cy="216.5" r="2.6" fill="#000" clip-path="url(#Rr)"/>
<line x1="544.34" y1="226" x2="544.34" y2="268" stroke="#000" stroke-width="1.1" clip-path="url(#Rr)"/>
<circle cx="544.34" cy="250.4" r="2.6" fill="#000" clip-path="url(#Rr)"/>
<line x1="550.02" y1="216.5" x2="550.02" y2="268" stroke="#000" stroke-width="1.1" clip-path="url(#Rr)"/>
<circle cx="550.02" cy="244.7" r="2.6" fill="#000" clip-path="url(#Rr)"/>
<line x1="555.7" y1="223.2" x2="555.7" y2="268" stroke="#000" stroke-width="1.1" clip-path="url(#Rr)"/>
<circle cx="555.7" cy="250.8" r="2.6" fill="#000" clip-path="url(#Rr)"/>
<line x1="561.38" y1="219.4" x2="561.38" y2="268" stroke="#000" stroke-width="1.1" clip-path="url(#Rr)"/>
<circle cx="561.38" cy="248.9" r="2.6" fill="#000" clip-path="url(#Rr)"/>
<line x1="567.06" y1="222.2" x2="567.06" y2="268" stroke="#000" stroke-width="1.1" clip-path="url(#Rr)"/>
<circle cx="567.06" cy="253.7" r="2.6" fill="#000" clip-path="url(#Rr)"/>
<line x1="572.74" y1="207" x2="572.74" y2="242.2" stroke="#000" stroke-width="1.1" clip-path="url(#Rr)"/>
<circle cx="572.74" cy="208" r="2.6" fill="#000" clip-path="url(#Rr)"/>
<line x1="578.42" y1="228.9" x2="578.42" y2="268" stroke="#000" stroke-width="1.1" clip-path="url(#Rr)"/>
<circle cx="578.42" cy="280" r="2.6" fill="#000" clip-path="url(#Rr)"/>
<line x1="589.78" y1="208.5" x2="589.78" y2="268" stroke="#000" stroke-width="1.1" clip-path="url(#Rr)"/>
<circle cx="589.78" cy="239.8" r="2.6" fill="#000" clip-path="url(#Rr)"/>
<line x1="601.14" y1="208.5" x2="601.14" y2="268" stroke="#000" stroke-width="1.1" clip-path="url(#Rr)"/>
<circle cx="601.14" cy="256.8" r="2.6" fill="#000" clip-path="url(#Rr)"/>
<line x1="606.82" y1="208.5" x2="606.82" y2="268" stroke="#000" stroke-width="1.1" clip-path="url(#Rr)"/>
<circle cx="606.82" cy="252.1" r="2.6" fill="#000" clip-path="url(#Rr)"/>
<line x1="612.5" y1="208.5" x2="612.5" y2="268" stroke="#000" stroke-width="1.1" clip-path="url(#Rr)"/>
<circle cx="612.5" cy="243" r="2.6" fill="#000" clip-path="url(#Rr)"/>
<line x1="623.86" y1="207" x2="623.86" y2="224.5" stroke="#000" stroke-width="1.1" clip-path="url(#Rr)"/>
<circle cx="623.86" cy="200" r="2.6" fill="#000" clip-path="url(#Rr)"/>
<line x1="635.22" y1="208.5" x2="635.22" y2="268" stroke="#000" stroke-width="1.1" clip-path="url(#Rr)"/>
<circle cx="635.22" cy="233.4" r="2.6" fill="#000" clip-path="url(#Rr)"/>
<line x1="646.58" y1="207" x2="646.58" y2="268" stroke="#000" stroke-width="1.1" clip-path="url(#Rr)"/>
<circle cx="646.58" cy="200" r="2.6" fill="#000" clip-path="url(#Rr)"/>
<rect x="399.5" y="207.8" width="284" height="59.4" fill="none" stroke="#000" stroke-width="1"/>
<path d="M399.5 267.2 h3.6 M683.5 267.2 h-3.6 M399.5 262.25 h7.5 M683.5 262.25 h-7.5 M399.5 257.3 h3.6 M683.5 257.3 h-3.6 M399.5 252.35 h3.6 M683.5 252.35 h-3.6 M399.5 247.4 h3.6 M683.5 247.4 h-3.6 M399.5 242.45 h3.6 M683.5 242.45 h-3.6 M399.5 237.5 h7.5 M683.5 237.5 h-7.5 M399.5 232.55 h3.6 M683.5 232.55 h-3.6 M399.5 227.6 h3.6 M683.5 227.6 h-3.6 M399.5 222.65 h3.6 M683.5 222.65 h-3.6 M399.5 217.7 h3.6 M683.5 217.7 h-3.6 M399.5 212.75 h7.5 M683.5 212.75 h-7.5 M399.5 207.8 h3.6 M683.5 207.8 h-3.6" stroke="#000" stroke-width="1" fill="none"/>
<text x="396.2" y="216.55" font-size="10.1" text-anchor="end">1.5</text>
<text x="396.2" y="241.3" font-size="10.1" text-anchor="end">1</text>
<text x="396.2" y="266.05" font-size="10.1" text-anchor="end">0.5</text>
<text transform="translate(363.9,7.4) rotate(-90)" font-size="10.1" text-anchor="end" textLength="72.6" lengthAdjust="spacingAndGlyphs">Events / 20 GeV</text>
<text transform="translate(375.3,212.3) rotate(-90)" font-size="10.6" text-anchor="end" textLength="48.6" lengthAdjust="spacingAndGlyphs">Data / SM</text>
<circle cx="580.8" cy="18.3" r="1.9" fill="#000"/>
<text x="594.1" y="21" font-size="9.7" font-weight="bold">data</text>
<rect x="570.8" y="26.13" width="19.4" height="9.6" fill="#ffff99"/>
<text x="594.1" y="33.33" font-size="9.7" font-weight="bold">Z/</text>
<text x="602.5" y="33.33" font-size="10.6" font-family="&quot;Liberation Serif&quot;, serif">&#947;</text>
<text x="607.8" y="31.13" font-size="8.6" font-weight="bold">*</text>
<path d="M612 30.73 H620.9 M618.6 28.83 L621.2 30.73 L618.6 32.63" fill="none" stroke="#000" stroke-width="0.95"/>
<text x="621.5" y="33.33" font-size="11" font-family="&quot;Liberation Serif&quot;, serif">&#956;&#956;</text>
<rect x="570.8" y="38.46" width="19.4" height="9.6" fill="#99ff99"/>
<text x="594.1" y="45.66" font-size="9.7" font-weight="bold">tt</text>
<line x1="597.5" x2="600.1" y1="37.86" y2="37.86" stroke="#000" stroke-width="1"/>
<rect x="570.8" y="50.79" width="19.4" height="9.6" fill="#ff99ff"/>
<text x="594.1" y="57.99" font-size="9.7" font-weight="bold">diboson</text>
<rect x="570.8" y="63.12" width="19.4" height="9.6" fill="#9999ff"/>
<text x="594.1" y="70.32" font-size="9.7" font-weight="bold">other</text>
<line x1="571.1" x2="590.2" y1="80.85" y2="80.85" stroke="#1a1aa6" stroke-width="1.6" stroke-dasharray="2.5 1.4"/>
<text x="594.1" y="82.65" font-size="9.7" font-weight="bold">m<tspan font-size="6.2" dy="2.6">LQ</tspan><tspan dy="-2.6"> = 300 GeV</tspan></text>
<line x1="571.1" x2="590.2" y1="93.18" y2="93.18" stroke="#888" stroke-width="1.8" stroke-dasharray="0.9 0.8"/>
<text x="594.1" y="94.98" font-size="9.7" font-weight="bold">m<tspan font-size="6.2" dy="2.6">LQ</tspan><tspan dy="-2.6"> = 600 GeV</tspan></text>
<line x1="571.1" x2="590.2" y1="105.51" y2="105.51" stroke="#ee1c1c" stroke-width="1.6" stroke-dasharray="13.4 2.2 4.2 9"/>
<text x="594.1" y="107.31" font-size="9.7" font-weight="bold">m<tspan font-size="6.2" dy="2.6">LQ</tspan><tspan dy="-2.6"> = 1000 GeV</tspan></text>
<text x="432.2" y="21.9" font-size="10.4" font-weight="bold" font-style="italic">ATLAS</text>
<path d="M432.5 36.9 L433.4 36.1 L434.7 40.9 L435.7 32.5 H441.7" fill="none" stroke="#000" stroke-width="0.95" stroke-linejoin="miter"/>
<path d="M433.5 36.2 L434.7 40.9" stroke="#000" stroke-width="1.5"/>
<text x="436.5" y="41.2" font-size="10">s = 8 TeV, 20.3 fb<tspan font-size="7" dy="-4.2">-1</tspan></text>
<text x="432.6" y="59.6" font-size="10.7" textLength="26.1" lengthAdjust="spacingAndGlyphs">LQLQ</text>
<line x1="445.8" x2="458.2" y1="50.6" y2="50.6" stroke="#000" stroke-width="0.9"/>
<path d="M458.7 56.6 H468 M465.7 54.7 L468.3 56.6 L465.7 58.5" fill="none" stroke="#000" stroke-width="0.95"/>
<text x="468.4" y="59.6" font-size="11.4" font-family="&quot;Liberation Serif&quot;, serif">&#956;&#956;</text>
<text x="479.8" y="59.6" font-size="10.7" textLength="4.4" lengthAdjust="spacingAndGlyphs">jj</text>
<text x="281.6" y="294.8" font-size="10.2">m</text><text x="289.6" y="296.6" font-size="6.9">ee</text><text x="300.4" y="294.8" font-size="10.2" textLength="28" lengthAdjust="spacingAndGlyphs">[GeV]</text>
<text x="635.8" y="294.8" font-size="10.2">m</text><text x="643.6" y="296.8" font-size="7.2" font-family="&quot;Liberation Serif&quot;, serif">&#956;&#956;</text><text x="655" y="294.8" font-size="10.2" textLength="27.7" lengthAdjust="spacingAndGlyphs">[GeV]</text>
<text x="184.4" y="303.2" font-size="16" font-weight="bold" text-anchor="middle" font-family="&quot;Liberation Serif&quot;, serif">(a)</text>
<text x="537.9" y="303.2" font-size="16" font-weight="bold" text-anchor="middle" font-family="&quot;Liberation Serif&quot;, serif">(b)</text></svg>
</body></html>
